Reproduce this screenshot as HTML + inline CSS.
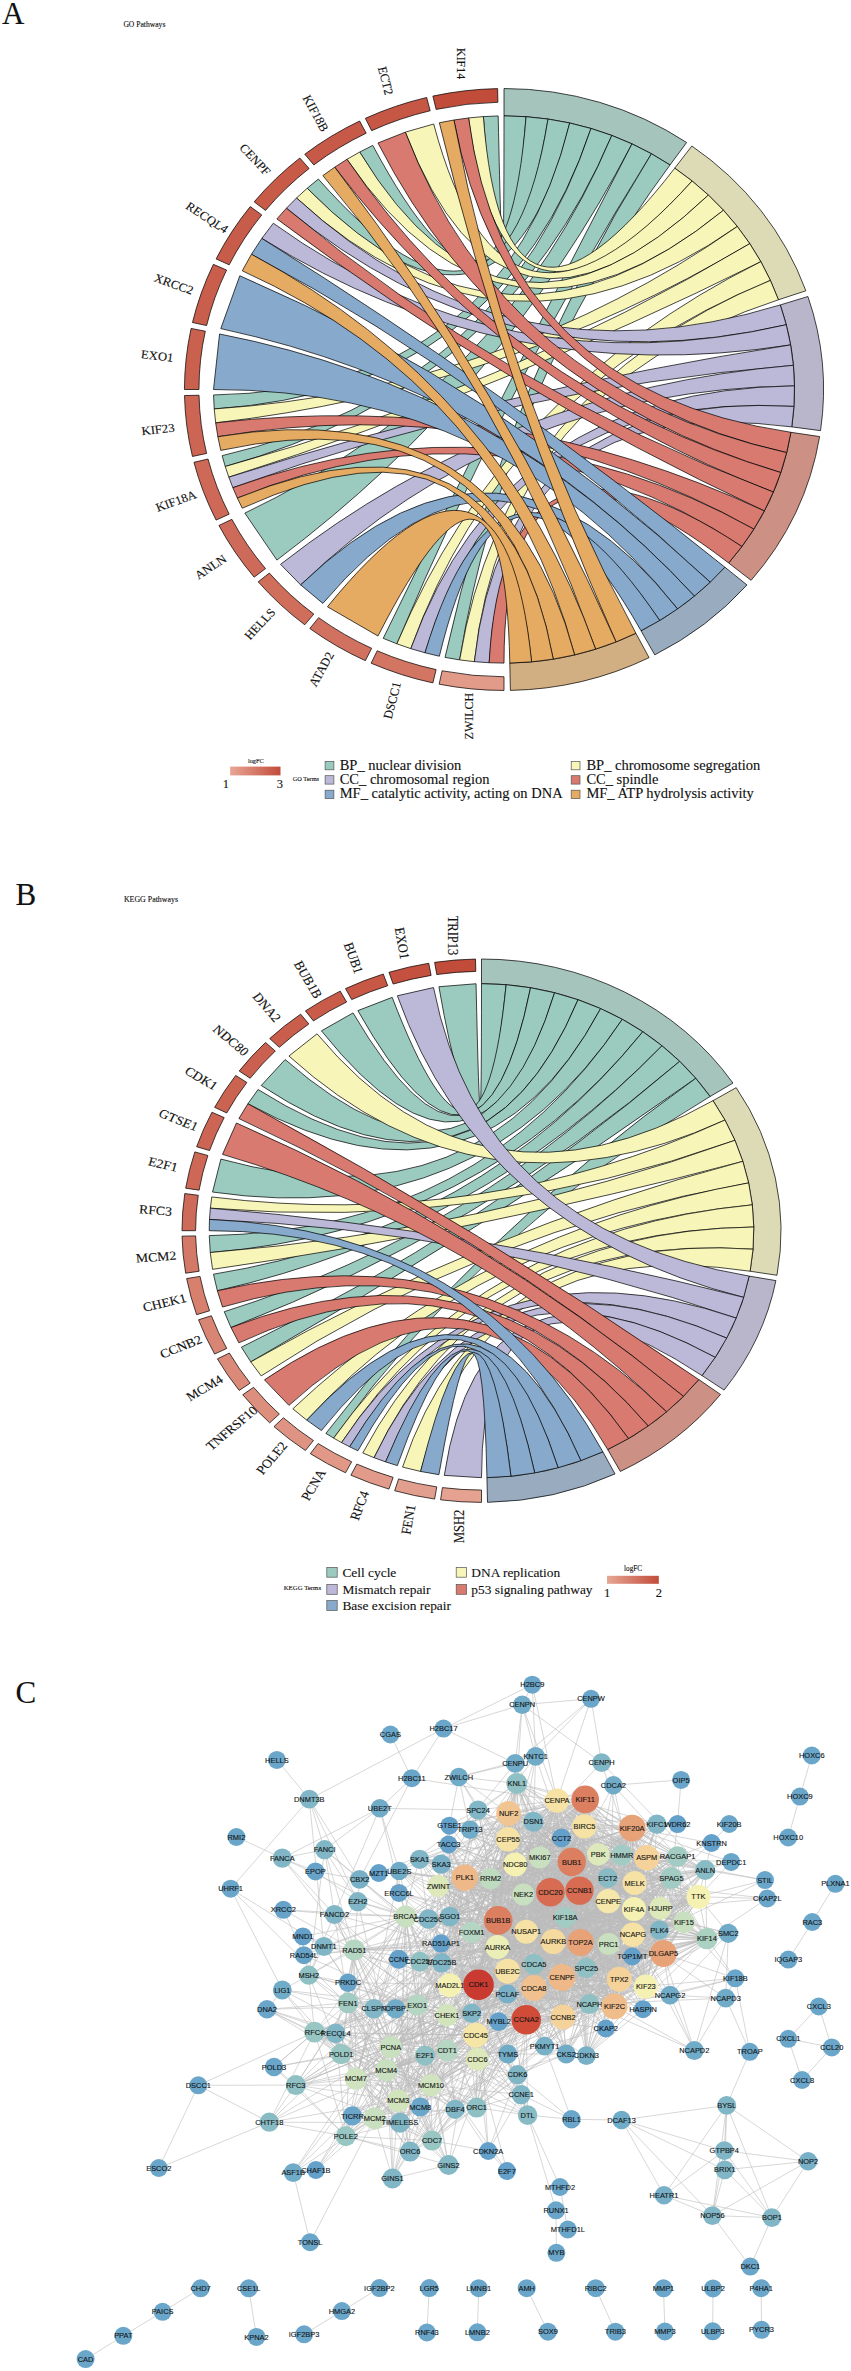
<!DOCTYPE html>
<html lang="en"><head><meta charset="utf-8"><title>Figure</title>
<style>html,body{margin:0;padding:0;background:#fff}body{width:851px;height:2371px;overflow:hidden}svg{display:block}</style></head><body>
<svg width="851" height="2371" viewBox="0 0 851 2371">
<rect width="851" height="2371" fill="#fff"/>
<!-- panel A: GO chord -->
<g font-family="'Liberation Serif', serif" font-size="12" fill="#111" stroke="#111" stroke-width="0.12" text-anchor="middle">
<text transform="translate(461.51 63.63) scale(1.0618 1) rotate(-270)" dy="3.96">KIF14</text>
<text transform="translate(385.58 80.7) scale(1.0618 1) rotate(-283.85)" dy="3.96">ECT2</text>
<text transform="translate(315.59 113.26) scale(1.0618 1) rotate(-297.69)" dy="3.96">KIF18B</text>
<text transform="translate(255.05 159.68) scale(1.0618 1) rotate(-311.54)" dy="3.96">CENPF</text>
<text transform="translate(206.99 217.61) scale(1.0618 1) rotate(-325.38)" dy="3.96">RECQL4</text>
<text transform="translate(173.83 284.17) scale(1.0618 1) rotate(-339.23)" dy="3.96">XRCC2</text>
<text transform="translate(157.22 356) scale(1.0618 1) rotate(-353.08)" dy="3.96">EXO1</text>
<text transform="translate(158 429.52) scale(1.0618 1) rotate(-6.92)" dy="3.96">KIF23</text>
<text transform="translate(176.13 501.03) scale(1.0618 1) rotate(-20.77)" dy="3.96">KIF18A</text>
<text transform="translate(210.7 566.95) scale(1.0618 1) rotate(-34.62)" dy="3.96">ANLN</text>
<text transform="translate(259.98 623.97) scale(1.0618 1) rotate(-48.46)" dy="3.96">HELLS</text>
<text transform="translate(321.49 669.23) scale(1.0618 1) rotate(-62.31)" dy="3.96">ATAD2</text>
<text transform="translate(392.16 700.46) scale(1.0618 1) rotate(-76.15)" dy="3.96">DSCC1</text>
<text transform="translate(468.44 716.11) scale(1.0618 1) rotate(-90)" dy="3.96">ZWILCH</text>
</g>
<g stroke="#000" stroke-width="0.72" stroke-linejoin="miter">
<path d="M504 115.9A290.5 273.6 0 0 1 670.02 164.98L686.62 142.53A319.55 300.96 0 0 0 504 88.54Z" fill="#a5c4bb"/>
<path d="M674.75 168.15A290.5 273.6 0 0 1 778.43 299.77L805.87 290.79A319.55 300.96 0 0 0 691.83 146.02Z" fill="#dcdbb5"/>
<path d="M780.28 304.95A290.5 273.6 0 0 1 791.77 426.89L820.55 430.63A319.55 300.96 0 0 0 807.91 296.5Z" fill="#b9b6cb"/>
<path d="M790.92 432.3A290.5 273.6 0 0 1 728.63 562.99L751.09 580.34A319.55 300.96 0 0 0 819.62 436.58Z" fill="#cc9184"/>
<path d="M724.9 567.19A290.5 273.6 0 0 1 641.03 630.75L654.74 654.87A319.55 300.96 0 0 0 746.99 584.96Z" fill="#99abbf"/>
<path d="M635.88 633.28A290.5 273.6 0 0 1 509.81 663.05L510.39 690.4A319.55 300.96 0 0 0 649.07 657.66Z" fill="#d2af82"/>
<path d="M497.9 102.28A305.03 287.28 0 0 0 436.13 109.42L432.89 96.09A319.55 300.96 0 0 1 497.61 88.6Z" fill="#c24c3a"/>
<path d="M430.19 110.76A305.03 287.28 0 0 0 371.65 130.67L365.35 118.34A319.55 300.96 0 0 1 426.68 97.48Z" fill="#c65745"/>
<path d="M366.19 133.21A305.03 287.28 0 0 0 313.82 164.9L304.76 154.2A319.55 300.96 0 0 1 359.62 121.01Z" fill="#c75948"/>
<path d="M309.09 168.52A305.03 287.28 0 0 0 265.52 210.38L254.17 201.85A319.55 300.96 0 0 1 299.81 158Z" fill="#c85a48"/>
<path d="M261.77 214.91A305.03 287.28 0 0 0 229.18 264.85L216.1 258.92A319.55 300.96 0 0 1 250.23 206.6Z" fill="#c85c4a"/>
<path d="M226.59 270.06A305.03 287.28 0 0 0 206.62 325.57L192.46 322.53A319.55 300.96 0 0 1 213.38 264.37Z" fill="#c95e4c"/>
<path d="M205.32 331.19A305.03 287.28 0 0 0 198.97 389.5L184.45 389.5A319.55 300.96 0 0 1 191.1 328.41Z" fill="#ca604e"/>
<path d="M199.04 395.25A305.03 287.28 0 0 0 206.62 453.43L192.46 456.47A319.55 300.96 0 0 1 184.51 395.52Z" fill="#cc6553"/>
<path d="M208.04 459.01A305.03 287.28 0 0 0 229.18 514.15L216.1 520.08A319.55 300.96 0 0 1 193.95 462.32Z" fill="#ce6857"/>
<path d="M231.88 519.3A305.03 287.28 0 0 0 265.52 568.62L254.17 577.15A319.55 300.96 0 0 1 218.93 525.48Z" fill="#ce6a59"/>
<path d="M269.37 573.07A305.03 287.28 0 0 0 313.82 614.1L304.76 624.8A319.55 300.96 0 0 1 258.2 581.81Z" fill="#d06e5c"/>
<path d="M318.63 617.64A305.03 287.28 0 0 0 371.65 648.33L365.35 660.66A319.55 300.96 0 0 1 309.8 628.51Z" fill="#d17160"/>
<path d="M377.18 650.77A305.03 287.28 0 0 0 436.13 669.58L432.89 682.91A319.55 300.96 0 0 1 371.14 663.21Z" fill="#d37563"/>
<path d="M442.09 670.8A305.03 287.28 0 0 0 504 676.78L504 690.46A319.55 300.96 0 0 1 439.14 684.19Z" fill="#e29a89"/>
<path d="M504 115.9Q504 389.5 498.19 115.95L483.36 116.59Q504 389.5 526.07 116.69Z" fill="#9bcbbf"/>
<path d="M526.07 116.69Q504 389.5 372.75 145.42L359.68 152.05Q504 389.5 548.01 119.06Z" fill="#9bcbbf"/>
<path d="M548.01 119.06Q504 389.5 318.37 179.05L307.2 188.25Q504 389.5 569.7 122.99Z" fill="#9bcbbf"/>
<path d="M569.7 122.99Q504 389.5 213.56 394.97L214.23 408.94Q504 389.5 591 128.46Z" fill="#9bcbbf"/>
<path d="M591 128.46Q504 389.5 222.13 455.7L225.24 466.5Q504 389.5 611.81 135.44Z" fill="#9bcbbf"/>
<path d="M611.81 135.44Q504 389.5 244.84 513.12L276.88 560.09Q504 389.5 631.99 143.88Z" fill="#9bcbbf"/>
<path d="M631.99 143.88Q504 389.5 383.22 638.33L396.87 643.82Q504 389.5 651.43 153.75Z" fill="#9bcbbf"/>
<path d="M651.43 153.75Q504 389.5 445.03 657.4L459.64 659.89Q504 389.5 670.02 164.98Z" fill="#9bcbbf"/>
<path d="M674.75 168.15Q504 389.5 483.36 116.59L468.59 117.94Q504 389.5 692.11 181.01Z" fill="#f7f6b8"/>
<path d="M692.11 181.01Q504 389.5 433.71 124.03L405.32 132.17Q504 389.5 708.38 195.07Z" fill="#f7f6b8"/>
<path d="M708.38 195.07Q504 389.5 359.68 152.05L346.99 159.3Q504 389.5 723.48 210.26Z" fill="#f7f6b8"/>
<path d="M723.48 210.26Q504 389.5 307.2 188.25L296.54 197.98Q504 389.5 737.3 226.48Z" fill="#f7f6b8"/>
<path d="M737.3 226.48Q504 389.5 214.23 408.94L215.67 422.85Q504 389.5 749.78 243.64Z" fill="#f7f6b8"/>
<path d="M749.78 243.64Q504 389.5 225.24 466.5L228.82 477.16Q504 389.5 760.83 261.65Z" fill="#f7f6b8"/>
<path d="M760.83 261.65Q504 389.5 396.87 643.82L410.8 648.64Q504 389.5 770.4 280.39Z" fill="#f7f6b8"/>
<path d="M770.4 280.39Q504 389.5 459.64 659.89L474.36 661.67Q504 389.5 778.43 299.77Z" fill="#f7f6b8"/>
<path d="M780.28 304.95Q504 389.5 296.54 197.98L286.43 208.21Q504 389.5 786.25 324.74Z" fill="#bcb8d8"/>
<path d="M786.25 324.74Q504 389.5 273.3 223.23L261.82 238.4Q504 389.5 790.61 344.9Z" fill="#bcb8d8"/>
<path d="M790.61 344.9Q504 389.5 228.82 477.16L232.85 487.68Q504 389.5 793.36 365.31Z" fill="#bcb8d8"/>
<path d="M793.36 365.31Q504 389.5 280.55 564.33L300.65 584.89Q504 389.5 794.47 385.85Z" fill="#bcb8d8"/>
<path d="M794.47 385.85Q504 389.5 410.8 648.64L424.98 652.78Q504 389.5 793.94 406.42Z" fill="#bcb8d8"/>
<path d="M793.94 406.42Q504 389.5 474.36 661.67L489.16 662.74Q504 389.5 791.77 426.89Z" fill="#bcb8d8"/>
<path d="M790.92 432.3Q504 389.5 468.59 117.94L453.91 120Q504 389.5 786.67 452.61Z" fill="#d87a70"/>
<path d="M786.67 452.61Q504 389.5 405.32 132.17L377.96 142.99Q504 389.5 780.79 472.56Z" fill="#d87a70"/>
<path d="M780.79 472.56Q504 389.5 346.99 159.3L334.71 167.16Q504 389.5 773.33 492.03Z" fill="#d87a70"/>
<path d="M773.33 492.03Q504 389.5 286.43 208.21L276.88 218.91Q504 389.5 764.33 510.92Z" fill="#d87a70"/>
<path d="M764.33 510.92Q504 389.5 215.67 422.85L217.85 436.68Q504 389.5 753.83 529.11Z" fill="#d87a70"/>
<path d="M753.83 529.11Q504 389.5 232.85 487.68L237.34 498.04Q504 389.5 741.91 546.5Z" fill="#d87a70"/>
<path d="M741.91 546.5Q504 389.5 489.16 662.74L504 663.1Q504 389.5 728.63 562.99Z" fill="#d87a70"/>
<path d="M724.9 567.19Q504 389.5 261.82 238.4L251.46 254.28Q504 389.5 710.23 582.19Z" fill="#87a9cb"/>
<path d="M710.23 582.19Q504 389.5 239.8 275.74L220.78 328.62Q504 389.5 694.43 596.12Z" fill="#87a9cb"/>
<path d="M694.43 596.12Q504 389.5 219.55 333.96L213.5 389.5Q504 389.5 677.56 608.9Z" fill="#87a9cb"/>
<path d="M677.56 608.9Q504 389.5 300.65 584.89L322.88 603.41Q504 389.5 659.73 620.47Z" fill="#87a9cb"/>
<path d="M659.73 620.47Q504 389.5 424.98 652.78L439.36 656.24Q504 389.5 641.03 630.75Z" fill="#87a9cb"/>
<path d="M635.88 633.28Q504 389.5 453.91 120L439.36 122.76Q504 389.5 616.06 641.92Z" fill="#e5ab62"/>
<path d="M616.06 641.92Q504 389.5 334.71 167.16L322.88 175.59Q504 389.5 595.61 649.14Z" fill="#e5ab62"/>
<path d="M595.61 649.14Q504 389.5 251.46 254.28L242.27 270.79Q504 389.5 574.64 654.89Z" fill="#e5ab62"/>
<path d="M574.64 654.89Q504 389.5 217.85 436.68L220.78 450.38Q504 389.5 553.27 659.14Z" fill="#e5ab62"/>
<path d="M553.27 659.14Q504 389.5 237.34 498.04L242.27 508.21Q504 389.5 531.62 661.86Z" fill="#e5ab62"/>
<path d="M531.62 661.86Q504 389.5 327.45 606.78L377.96 636.01Q504 389.5 509.81 663.05Z" fill="#e5ab62"/>
</g>
<!-- panel B: KEGG chord -->
<g font-family="'Liberation Serif', serif" font-size="12.5" fill="#111" stroke="#111" stroke-width="0.12" text-anchor="middle">
<text transform="translate(452.61 935.46) scale(1.1024 1) rotate(-270)" dy="4.12">TRIP13</text>
<text transform="translate(402.05 943.2) scale(1.1024 1) rotate(-279.47)" dy="4.12">EXO1</text>
<text transform="translate(353.44 958.01) scale(1.1024 1) rotate(-288.95)" dy="4.12">BUB1</text>
<text transform="translate(307.99 979.54) scale(1.1024 1) rotate(-298.42)" dy="4.12">BUB1B</text>
<text transform="translate(266.81 1007.25) scale(1.1024 1) rotate(-307.89)" dy="4.12">DNA2</text>
<text transform="translate(230.92 1040.47) scale(1.1024 1) rotate(-317.37)" dy="4.12">NDC80</text>
<text transform="translate(201.2 1078.37) scale(1.1024 1) rotate(-326.84)" dy="4.12">CDK1</text>
<text transform="translate(178.38 1120.02) scale(1.1024 1) rotate(-336.32)" dy="4.12">GTSE1</text>
<text transform="translate(163.02 1164.39) scale(1.1024 1) rotate(-345.79)" dy="4.12">E2F1</text>
<text transform="translate(155.51 1210.4) scale(1.1024 1) rotate(-355.26)" dy="4.12">RFC3</text>
<text transform="translate(156.02 1256.91) scale(1.1024 1) rotate(-4.74)" dy="4.12">MCM2</text>
<text transform="translate(164.55 1302.77) scale(1.1024 1) rotate(-14.21)" dy="4.12">CHEK1</text>
<text transform="translate(180.88 1346.86) scale(1.1024 1) rotate(-23.68)" dy="4.12">CCNB2</text>
<text transform="translate(204.61 1388.09) scale(1.1024 1) rotate(-33.16)" dy="4.12">MCM4</text>
<text transform="translate(235.16 1425.44) scale(1.1024 1) rotate(-42.63)" dy="4.12">TNFRSF10B</text>
<text transform="translate(271.78 1458) scale(1.1024 1) rotate(-52.11)" dy="4.12">POLE2</text>
<text transform="translate(313.56 1484.96) scale(1.1024 1) rotate(-61.58)" dy="4.12">PCNA</text>
<text transform="translate(359.48 1505.66) scale(1.1024 1) rotate(-71.05)" dy="4.12">RFC4</text>
<text transform="translate(408.4 1519.59) scale(1.1024 1) rotate(-80.53)" dy="4.12">FEN1</text>
<text transform="translate(459.12 1526.4) scale(1.1024 1) rotate(-90)" dy="4.12">MSH2</text>
</g>
<g stroke="#000" stroke-width="0.72" stroke-linejoin="miter">
<path d="M481.5 983.7A272.3 247 0 0 1 710.1 1096.5L732.96 1083.08A299.53 271.7 0 0 0 481.5 959Z" fill="#a5c4bb"/>
<path d="M713.01 1100.67A272.3 247 0 0 1 750.11 1271.22L776.97 1275.27A299.53 271.7 0 0 0 736.17 1087.67Z" fill="#dcdbb5"/>
<path d="M749.16 1276.09A272.3 247 0 0 1 702.04 1375.58L724.09 1390.07A299.53 271.7 0 0 0 775.93 1280.62Z" fill="#b9b6cb"/>
<path d="M698.8 1379.55A272.3 247 0 0 1 607.73 1449.56L620.35 1471.45A299.53 271.7 0 0 0 720.53 1394.44Z" fill="#cc9184"/>
<path d="M602.87 1451.81A272.3 247 0 0 1 486.95 1477.65L487.49 1502.35A299.53 271.7 0 0 0 615.01 1473.92Z" fill="#99abbf"/>
<path d="M475.78 971.4A285.92 259.35 0 0 0 436.77 974.54L434.64 962.35A299.53 271.7 0 0 1 475.51 959.05Z" fill="#c24c3a"/>
<path d="M431.13 975.41A285.92 259.35 0 0 0 393.15 984.04L388.94 972.3A299.53 271.7 0 0 1 428.74 963.25Z" fill="#c4513f"/>
<path d="M387.73 985.7A285.92 259.35 0 0 0 351.7 999.62L345.52 988.61A299.53 271.7 0 0 1 383.26 974.03Z" fill="#c75846"/>
<path d="M346.63 1002.02A285.92 259.35 0 0 0 313.44 1020.88L305.44 1010.89A299.53 271.7 0 0 1 340.21 991.13Z" fill="#c85b49"/>
<path d="M308.85 1023.97A285.92 259.35 0 0 0 279.33 1047.31L269.7 1038.58A299.53 271.7 0 0 1 300.63 1014.13Z" fill="#c95e4c"/>
<path d="M275.32 1051.02A285.92 259.35 0 0 0 250.19 1078.26L239.18 1071A299.53 271.7 0 0 1 265.51 1042.46Z" fill="#ca604f"/>
<path d="M246.88 1082.48A285.92 259.35 0 0 0 226.75 1112.96L214.62 1107.35A299.53 271.7 0 0 1 235.7 1075.43Z" fill="#cb6351"/>
<path d="M224.2 1117.6A285.92 259.35 0 0 0 209.58 1150.56L196.63 1146.74A299.53 271.7 0 0 1 211.95 1112.22Z" fill="#cc6553"/>
<path d="M207.87 1155.51A285.92 259.35 0 0 0 199.11 1190.13L185.66 1188.2A299.53 271.7 0 0 1 194.84 1151.92Z" fill="#cd6856"/>
<path d="M198.27 1195.26A285.92 259.35 0 0 0 195.58 1230.7L181.97 1230.7A299.53 271.7 0 0 1 184.78 1193.57Z" fill="#ce6a59"/>
<path d="M195.64 1235.89A285.92 259.35 0 0 0 199.11 1271.27L185.66 1273.2A299.53 271.7 0 0 1 182.03 1236.13Z" fill="#d47867"/>
<path d="M200.06 1276.39A285.92 259.35 0 0 0 209.58 1310.84L196.63 1314.66A299.53 271.7 0 0 1 186.65 1278.56Z" fill="#d7806e"/>
<path d="M211.4 1315.76A285.92 259.35 0 0 0 226.75 1348.44L214.62 1354.05A299.53 271.7 0 0 1 198.54 1319.81Z" fill="#d98574"/>
<path d="M229.39 1353.04A285.92 259.35 0 0 0 250.19 1383.14L239.18 1390.4A299.53 271.7 0 0 1 217.39 1358.87Z" fill="#db8a79"/>
<path d="M253.6 1387.31A285.92 259.35 0 0 0 279.33 1414.09L269.7 1422.82A299.53 271.7 0 0 1 242.74 1394.77Z" fill="#dd8f7e"/>
<path d="M283.41 1417.72A285.92 259.35 0 0 0 313.44 1440.52L305.44 1450.51A299.53 271.7 0 0 1 273.98 1426.62Z" fill="#df9382"/>
<path d="M318.1 1443.53A285.92 259.35 0 0 0 351.7 1461.78L345.52 1472.79A299.53 271.7 0 0 1 310.32 1453.66Z" fill="#e19886"/>
<path d="M356.82 1464.09A285.92 259.35 0 0 0 393.15 1477.36L388.94 1489.1A299.53 271.7 0 0 1 350.88 1475.2Z" fill="#e29b8a"/>
<path d="M398.6 1478.91A285.92 259.35 0 0 0 436.77 1486.86L434.64 1499.05A299.53 271.7 0 0 1 394.66 1490.73Z" fill="#e39f8e"/>
<path d="M442.43 1487.62A285.92 259.35 0 0 0 481.5 1490.05L481.5 1502.4A299.53 271.7 0 0 1 440.57 1499.85Z" fill="#e5a291"/>
<path d="M481.5 983.7Q481.5 1230.7 476.05 983.75L438.9 986.74Q481.5 1230.7 506.13 984.71Z" fill="#9bcbbf"/>
<path d="M506.13 984.71Q481.5 1230.7 392.19 997.36L357.88 1010.62Q481.5 1230.7 530.56 987.74Z" fill="#9bcbbf"/>
<path d="M530.56 987.74Q481.5 1230.7 353.05 1012.91L321.45 1030.87Q481.5 1230.7 554.59 992.76Z" fill="#9bcbbf"/>
<path d="M554.59 992.76Q481.5 1230.7 285.14 1059.57L261.2 1085.52Q481.5 1230.7 578.02 999.74Z" fill="#9bcbbf"/>
<path d="M578.02 999.74Q481.5 1230.7 258.05 1089.54L247.91 1103.76Q481.5 1230.7 600.65 1008.6Z" fill="#9bcbbf"/>
<path d="M600.65 1008.6Q481.5 1230.7 220.9 1159.09L212.55 1192.06Q481.5 1230.7 622.31 1019.29Z" fill="#9bcbbf"/>
<path d="M622.31 1019.29Q481.5 1230.7 209.25 1235.64L210.27 1252.54Q481.5 1230.7 642.82 1031.71Z" fill="#9bcbbf"/>
<path d="M642.82 1031.71Q481.5 1230.7 213.46 1274.21L217.37 1290.76Q481.5 1230.7 662 1045.76Z" fill="#9bcbbf"/>
<path d="M662 1045.76Q481.5 1230.7 224.26 1311.71L230.98 1327.5Q481.5 1230.7 679.7 1061.33Z" fill="#9bcbbf"/>
<path d="M679.7 1061.33Q481.5 1230.7 241.4 1347.21L250.76 1361.86Q481.5 1230.7 695.78 1078.29Z" fill="#9bcbbf"/>
<path d="M695.78 1078.29Q481.5 1230.7 325.88 1433.39L333.63 1438.11Q481.5 1230.7 710.1 1096.5Z" fill="#9bcbbf"/>
<path d="M713.01 1100.67Q481.5 1230.7 317.07 1033.82L288.95 1056.04Q481.5 1230.7 724.95 1120.05Z" fill="#f7f6b8"/>
<path d="M724.95 1120.05Q481.5 1230.7 211.75 1196.95L210.34 1208.16Q481.5 1230.7 734.92 1140.32Z" fill="#f7f6b8"/>
<path d="M734.92 1140.32Q481.5 1230.7 210.27 1252.54L212.55 1269.34Q481.5 1230.7 742.84 1161.33Z" fill="#f7f6b8"/>
<path d="M742.84 1161.33Q481.5 1230.7 250.76 1361.86L261.2 1375.88Q481.5 1230.7 748.65 1182.89Z" fill="#f7f6b8"/>
<path d="M748.65 1182.89Q481.5 1230.7 292.84 1408.81L306.73 1420.11Q481.5 1230.7 752.3 1204.84Z" fill="#f7f6b8"/>
<path d="M752.3 1204.84Q481.5 1230.7 333.63 1438.11L341.55 1442.58Q481.5 1230.7 753.77 1227Z" fill="#f7f6b8"/>
<path d="M753.77 1227Q481.5 1230.7 362.76 1452.98L374.07 1457.67Q481.5 1230.7 753.04 1249.18Z" fill="#f7f6b8"/>
<path d="M753.04 1249.18Q481.5 1230.7 402.55 1467.09L420.58 1471.44Q481.5 1230.7 750.11 1271.22Z" fill="#f7f6b8"/>
<path d="M749.16 1276.09Q481.5 1230.7 433.53 987.56L397.35 995.79Q481.5 1230.7 743.7 1297.34Z" fill="#bcb8d8"/>
<path d="M743.7 1297.34Q481.5 1230.7 210.34 1208.16L209.48 1219.42Q481.5 1230.7 736.19 1318.08Z" fill="#bcb8d8"/>
<path d="M736.19 1318.08Q481.5 1230.7 341.55 1442.58L349.64 1446.81Q481.5 1230.7 726.69 1338.14Z" fill="#bcb8d8"/>
<path d="M726.69 1338.14Q481.5 1230.7 374.07 1457.67L385.61 1461.88Q481.5 1230.7 715.28 1357.35Z" fill="#bcb8d8"/>
<path d="M715.28 1357.35Q481.5 1230.7 444.29 1475.38L481.5 1477.7Q481.5 1230.7 702.04 1375.58Z" fill="#bcb8d8"/>
<path d="M698.8 1379.55Q481.5 1230.7 247.91 1103.76L238.88 1118.56Q481.5 1230.7 683.46 1396.37Z" fill="#d87a70"/>
<path d="M683.46 1396.37Q481.5 1230.7 236.46 1122.99L222.53 1154.37Q481.5 1230.7 666.55 1411.9Z" fill="#d87a70"/>
<path d="M666.55 1411.9Q481.5 1230.7 217.37 1290.76L222.53 1307.03Q481.5 1230.7 648.19 1426.01Z" fill="#d87a70"/>
<path d="M648.19 1426.01Q481.5 1230.7 230.98 1327.5L238.88 1342.84Q481.5 1230.7 628.53 1438.6Z" fill="#d87a70"/>
<path d="M628.53 1438.6Q481.5 1230.7 264.45 1379.85L288.95 1405.36Q481.5 1230.7 607.73 1449.56Z" fill="#d87a70"/>
<path d="M602.87 1451.81Q481.5 1230.7 209.48 1219.42L209.2 1230.7Q481.5 1230.7 580.88 1460.66Z" fill="#87a9cb"/>
<path d="M580.88 1460.66Q481.5 1230.7 306.73 1420.11L321.45 1430.53Q481.5 1230.7 558.11 1467.72Z" fill="#87a9cb"/>
<path d="M558.11 1467.72Q481.5 1230.7 349.64 1446.81L357.88 1450.78Q481.5 1230.7 534.74 1472.93Z" fill="#87a9cb"/>
<path d="M534.74 1472.93Q481.5 1230.7 385.61 1461.88L397.35 1465.61Q481.5 1230.7 510.96 1476.25Z" fill="#87a9cb"/>
<path d="M510.96 1476.25Q481.5 1230.7 420.58 1471.44L438.9 1474.66Q481.5 1230.7 486.95 1477.65Z" fill="#87a9cb"/>
</g>
<!-- legends -->
<defs><linearGradient id="lg" x1="0" x2="1" y1="0" y2="0"><stop offset="0" stop-color="#e8a695"/><stop offset="1" stop-color="#c24c3a"/></linearGradient></defs>
<g font-family="'Liberation Serif', serif" fill="#111" stroke="#111" stroke-width="0.12">
<text x="2" y="23.5" font-size="31">A</text>
<text x="15.5" y="905.3" font-size="31">B</text>
<text x="15.5" y="1703" font-size="31">C</text>
<text x="123.4" y="27.4" font-size="7.6">GO Pathways</text>
<text x="123.9" y="901.7" font-size="7.9">KEGG Pathways</text>
<text x="255.8" y="763.3" font-size="6.3" text-anchor="middle">logFC</text>
<rect x="230.1" y="766.6" width="50.4" height="8.8" fill="url(#lg)" stroke="none"/>
<text x="225.9" y="787.6" font-size="12.5" text-anchor="middle">1</text>
<text x="279.8" y="787.6" font-size="12.5" text-anchor="middle">3</text>
<text x="292.8" y="781" font-size="6.3">GO Terms</text>
<rect x="325.1" y="761.4" width="8.8" height="8.4" fill="#9bcbbf" stroke="#555" stroke-width="0.7"/>
<text x="339.7" y="769.6" font-size="14.5">BP_ nuclear division</text>
<rect x="571.2" y="761.4" width="8.8" height="8.4" fill="#f7f6b8" stroke="#555" stroke-width="0.7"/>
<text x="586.4" y="769.6" font-size="14.5">BP_ chromosome segregation</text>
<rect x="325.1" y="775.7" width="8.8" height="8.4" fill="#bcb8d8" stroke="#555" stroke-width="0.7"/>
<text x="339.7" y="783.9" font-size="14.5">CC_ chromosomal region</text>
<rect x="571.2" y="775.7" width="8.8" height="8.4" fill="#d87a70" stroke="#555" stroke-width="0.7"/>
<text x="586.4" y="783.9" font-size="14.5">CC_ spindle</text>
<rect x="325.1" y="790.2" width="8.8" height="8.4" fill="#87a9cb" stroke="#555" stroke-width="0.7"/>
<text x="339.7" y="798.4" font-size="14.5">MF_ catalytic activity, acting on DNA</text>
<rect x="571.2" y="790.2" width="8.8" height="8.4" fill="#e5ab62" stroke="#555" stroke-width="0.7"/>
<text x="586.4" y="798.4" font-size="14.5">MF_ ATP hydrolysis activity</text>
<text x="283.7" y="1590.2" font-size="6.8">KEGG Terms</text>
<rect x="326.8" y="1567.4" width="10.4" height="9.8" fill="#9bcbbf" stroke="#555" stroke-width="0.7"/>
<text x="342.4" y="1577.2" font-size="13.4">Cell cycle</text>
<rect x="456.2" y="1567.4" width="10.4" height="9.8" fill="#f7f6b8" stroke="#555" stroke-width="0.7"/>
<text x="471.3" y="1577.2" font-size="13.4">DNA replication</text>
<rect x="326.8" y="1584.5" width="10.4" height="9.8" fill="#bcb8d8" stroke="#555" stroke-width="0.7"/>
<text x="342.4" y="1594.3" font-size="13.4">Mismatch repair</text>
<rect x="456.2" y="1584.5" width="10.4" height="9.8" fill="#d87a70" stroke="#555" stroke-width="0.7"/>
<text x="471.3" y="1594.3" font-size="13.4">p53 signaling pathway</text>
<rect x="326.8" y="1600.6" width="10.4" height="9.8" fill="#87a9cb" stroke="#555" stroke-width="0.7"/>
<text x="342.4" y="1610.4" font-size="13.4">Base excision repair</text>
<text x="633.1" y="1570.6" font-size="7.2" text-anchor="middle">logFC</text>
<rect x="607" y="1575.8" width="51.8" height="8" fill="url(#lg)" stroke="none"/>
<text x="607" y="1597.3" font-size="12.5" text-anchor="middle">1</text>
<text x="658.8" y="1597.3" font-size="12.5" text-anchor="middle">2</text>
</g>
<!-- panel C: PPI network -->
<g stroke="#bcbcbc" stroke-width="0.6" fill="none">
<path d="M526.7 2288.2L547.9 2331.7M705.2 1870L646.7 1857.7M705.2 1870L553.4 1941.6M705.2 1870L584.5 1826.4M705.2 1870L498.2 1920.4M705.2 1870L526.2 2019.8M705.2 1870L579.5 1890.6M705.2 1870L563 2016.9M705.2 1870L550.4 1892.2M705.2 1870L478.5 1984.7M705.2 1870L557 1800.6M705.2 1870L608.2 1901.1M705.2 1870L601.6 1762.7M705.2 1870L508.1 1839.3M705.2 1870L731.2 1861.9M705.2 1870L585.2 1799.4M705.2 1870L706.9 1938.7M705.2 1870L632.2 1828.1M705.2 1870L614.5 2006.2M705.2 1870L711.6 1843M705.2 1870L634.7 1883M705.2 1870L632.9 1934.7M705.2 1870L508.6 1813.5M705.2 1870L410 2151.6M705.2 1870L659.4 1930M705.2 1870L677.5 1856.7M705.2 1870L314.5 2032.2M705.2 1870L765 1880.1M705.2 1870L619.2 1979.2M705.2 1870L698.4 1896.8M705.2 1870L438.4 1886M293.2 2172.7L315.9 2170M293.2 2172.7L374.7 2118.2M293.2 2172.7L355.9 2078.8M293.2 2172.7L390.8 2047.1M293.2 2172.7L352.4 2115.9M293.2 2172.7L310.1 2242.2M646.7 1857.7L497.5 1947M646.7 1857.7L553.4 1941.6M646.7 1857.7L584.5 1826.4M646.7 1857.7L571.7 1862M646.7 1857.7L498.2 1920.4M646.7 1857.7L526.2 2019.8M646.7 1857.7L579.5 1890.6M646.7 1857.7L563 2016.9M646.7 1857.7L550.4 1892.2M646.7 1857.7L420 1961.7M646.7 1857.7L475.8 2035.2M646.7 1857.7L533.9 1988.1M646.7 1857.7L478.5 1984.7M646.7 1857.7L557 1800.6M646.7 1857.7L608.2 1901.1M646.7 1857.7L562 1977.5M646.7 1857.7L508.1 1839.3M646.7 1857.7L566.2 2054M646.7 1857.7L731.2 1861.9M646.7 1857.7L663.4 1953.5M646.7 1857.7L533.5 1821.7M646.7 1857.7L607.7 1878M646.7 1857.7L471.6 1932.4"/>
<path d="M646.7 1857.7L660.4 1908.2M646.7 1857.7L621.8 1855.1M646.7 1857.7L585.2 1799.4M646.7 1857.7L706.9 1938.7M646.7 1857.7L683.9 1922.3M646.7 1857.7L632.2 1828.1M646.7 1857.7L645.8 1986.4M646.7 1857.7L614.5 2006.2M646.7 1857.7L634 1908.9M646.7 1857.7L656.9 1824.1M646.7 1857.7L516.8 1783.4M646.7 1857.7L449.8 1985.3M646.7 1857.7L634.7 1883M646.7 1857.7L539.8 1857.4M646.7 1857.7L632.9 1934.7M646.7 1857.7L515.2 1864.4M646.7 1857.7L523.4 1894.5M646.7 1857.7L508.6 1813.5M646.7 1857.7L526.2 1931.7M646.7 1857.7L598.3 1854.4M646.7 1857.7L390.8 2047.1M646.7 1857.7L544.6 2046.2M646.7 1857.7L464.9 1877.6M646.7 1857.7L659.4 1930M646.7 1857.7L608.6 1943.9M646.7 1857.7L677.5 1856.7M646.7 1857.7L441 1943.4M646.7 1857.7L490.5 1878.7M646.7 1857.7L471.7 2013.2M646.7 1857.7L671.4 1878M646.7 1857.7L765 1880.1M646.7 1857.7L399.9 2122.7M646.7 1857.7L580.5 1942.5M646.7 1857.7L619.2 1979.2M646.7 1857.7L698.4 1896.8M646.7 1857.7L507.6 1971.2M646.7 1857.7L677.5 1824.1M646.7 1857.7L438.4 1886M497.5 1947L553.4 1941.6M497.5 1947L584.5 1826.4M497.5 1947L405.6 1916.5M497.5 1947L571.7 1862M497.5 1947L498.2 1920.4M497.5 1947L526.2 2019.8M497.5 1947L579.5 1890.6M497.5 1947L563 2016.9M497.5 1947L398.7 1959.3M497.5 1947L550.4 1892.2M497.5 1947L420 1961.7M497.5 1947L441.7 1962.8M497.5 1947L428.4 1919M497.5 1947L477.4 2059.2M497.5 1947L533.9 1988.1M497.5 1947L478.5 1984.7M497.5 1947L557 1800.6M497.5 1947L608.2 1901.1M497.5 1947L562 1977.5M497.5 1947L508.1 1839.3M497.5 1947L447 2015.1M497.5 1947L663.4 1953.5"/>
<path d="M497.5 1947L471.6 1932.4M497.5 1947L660.4 1908.2M497.5 1947L621.8 1855.1M497.5 1947L585.2 1799.4M497.5 1947L683.9 1922.3M497.5 1947L632.2 1828.1M497.5 1947L614.5 2006.2M497.5 1947L634 1908.9M497.5 1947L449.8 1985.3M497.5 1947L355.9 2078.8M497.5 1947L634.7 1883M497.5 1947L539.8 1857.4M497.5 1947L632.9 1934.7M497.5 1947L515.2 1864.4M497.5 1947L523.4 1894.5M497.5 1947L508.6 1813.5M497.5 1947L526.2 1931.7M497.5 1947L464.9 1877.6M497.5 1947L608.6 1943.9M497.5 1947L677.5 1856.7M497.5 1947L335.7 2033.4M497.5 1947L490.5 1878.7M497.5 1947L419.6 1859.3M497.5 1947L441.2 1864.1M497.5 1947L471.7 2013.2M497.5 1947L586.3 1968.1M497.5 1947L580.5 1942.5M497.5 1947L619.2 1979.2M497.5 1947L698.4 1896.8M497.5 1947L507.6 1971.2M497.5 1947L438.4 1886M553.4 1941.6L584.5 1826.4M553.4 1941.6L571.7 1862M553.4 1941.6L498.2 1920.4M553.4 1941.6L526.2 2019.8M553.4 1941.6L579.5 1890.6M553.4 1941.6L563 2016.9M553.4 1941.6L550.4 1892.2M553.4 1941.6L441.7 1962.8M553.4 1941.6L533.9 1964.1M553.4 1941.6L533.9 1988.1M553.4 1941.6L478.5 1984.7M553.4 1941.6L557 1800.6M553.4 1941.6L608.2 1901.1M553.4 1941.6L562 1977.5M553.4 1941.6L508.1 1839.3M553.4 1941.6L663.4 1953.5M553.4 1941.6L425 2055.5M553.4 1941.6L607.7 1878M553.4 1941.6L471.6 1932.4M553.4 1941.6L643 2009.2M553.4 1941.6L660.4 1908.2M553.4 1941.6L621.8 1855.1M553.4 1941.6L585.2 1799.4M553.4 1941.6L706.9 1938.7M553.4 1941.6L683.9 1922.3M553.4 1941.6L565.2 1917.6M553.4 1941.6L632.2 1828.1M553.4 1941.6L645.8 1986.4M553.4 1941.6L614.5 2006.2"/>
<path d="M553.4 1941.6L634 1908.9M553.4 1941.6L449.8 1985.3M553.4 1941.6L634.7 1883M553.4 1941.6L539.8 1857.4M553.4 1941.6L632.9 1934.7M553.4 1941.6L589.4 2004.1M553.4 1941.6L515.2 1864.4M553.4 1941.6L523.4 1894.5M553.4 1941.6L508.6 1813.5M553.4 1941.6L526.2 1931.7M553.4 1941.6L598.3 1854.4M553.4 1941.6L464.9 1877.6M553.4 1941.6L659.4 1930M553.4 1941.6L608.6 1943.9M553.4 1941.6L677.5 1856.7M553.4 1941.6L490.5 1878.7M553.4 1941.6L449.8 1916.5M553.4 1941.6L419.6 1859.3M553.4 1941.6L671.4 1878M553.4 1941.6L586.3 1968.1M553.4 1941.6L580.5 1942.5M553.4 1941.6L619.2 1979.2M553.4 1941.6L698.4 1896.8M553.4 1941.6L507.6 1971.2M553.4 1941.6L438.4 1886M584.5 1826.4L405.6 1916.5M584.5 1826.4L571.7 1862M584.5 1826.4L498.2 1920.4M584.5 1826.4L526.2 2019.8M584.5 1826.4L579.5 1890.6M584.5 1826.4L563 2016.9M584.5 1826.4L561.5 1837.9M584.5 1826.4L550.4 1892.2M584.5 1826.4L420 1961.7M584.5 1826.4L428.4 1919M584.5 1826.4L475.8 2035.2M584.5 1826.4L533.9 1988.1M584.5 1826.4L478.5 1984.7M584.5 1826.4L586.4 2055.7M584.5 1826.4L447.2 2050.7M584.5 1826.4L557 1800.6M584.5 1826.4L608.2 1901.1M584.5 1826.4L562 1977.5M584.5 1826.4L508.1 1839.3M584.5 1826.4L663.4 1953.5M584.5 1826.4L533.5 1821.7M584.5 1826.4L425 2055.5M584.5 1826.4L471.6 1932.4M584.5 1826.4L660.4 1908.2M584.5 1826.4L621.8 1855.1M584.5 1826.4L585.2 1799.4M584.5 1826.4L683.9 1922.3M584.5 1826.4L632.2 1828.1M584.5 1826.4L645.8 1986.4M584.5 1826.4L614.5 2006.2M584.5 1826.4L634 1908.9M584.5 1826.4L656.9 1824.1M584.5 1826.4L516.8 1783.4M584.5 1826.4L398.2 2100.6M584.5 1826.4L634.7 1883"/>
<path d="M584.5 1826.4L539.8 1857.4M584.5 1826.4L632.9 1934.7M584.5 1826.4L589.4 2004.1M584.5 1826.4L515.2 1864.4M584.5 1826.4L523.4 1894.5M584.5 1826.4L508.6 1813.5M584.5 1826.4L526.2 1931.7M584.5 1826.4L598.3 1854.4M584.5 1826.4L464.9 1877.6M584.5 1826.4L659.4 1930M584.5 1826.4L345.8 2136.3M584.5 1826.4L608.6 1943.9M584.5 1826.4L441 1943.4M584.5 1826.4L490.5 1878.7M584.5 1826.4L449.8 1916.5M584.5 1826.4L419.6 1859.3M584.5 1826.4L471.7 2013.2M584.5 1826.4L580.5 1942.5M584.5 1826.4L619.2 1979.2M584.5 1826.4L470 1829.7M584.5 1826.4L698.4 1896.8M584.5 1826.4L507.6 1971.2M584.5 1826.4L438.4 1886M771.9 2217.6L724.8 2169.8M771.9 2217.6L726.7 2105.3M771.9 2217.6L750.3 2266.6M771.9 2217.6L724.3 2150.7M771.9 2217.6L664 2195.3M771.9 2217.6L808.1 2161.3M771.9 2217.6L712.4 2215.6M405.6 1916.5L571.7 1862M405.6 1916.5L498.2 1920.4M405.6 1916.5L359.6 1879.3M405.6 1916.5L428.4 1919M405.6 1916.5L475.8 2035.2M405.6 1916.5L478.5 1984.7M405.6 1916.5L557 1800.6M405.6 1916.5L447 2015.1M405.6 1916.5L663.4 1953.5M405.6 1916.5L323.9 1946.5M405.6 1916.5L425 2055.5M405.6 1916.5L417.1 2005M405.6 1916.5L357.8 1901.7M405.6 1916.5L282.3 1858.1M405.6 1916.5L334.4 1914.5M405.6 1916.5L324.6 1849.7M405.6 1916.5L348.1 2002.9M405.6 1916.5L448.5 2165M405.6 1916.5L683.9 1922.3M405.6 1916.5L634 1908.9M405.6 1916.5L449.8 1985.3M405.6 1916.5L398.2 2100.6M405.6 1916.5L386.3 2070.1M405.6 1916.5L355.9 2078.8M405.6 1916.5L302.9 1936.4M405.6 1916.5L308.8 1975.2M405.6 1916.5L632.9 1934.7M405.6 1916.5L589.4 2004.1M405.6 1916.5L410 2151.6M405.6 1916.5L345.8 2136.3"/>
<path d="M405.6 1916.5L348 1982.7M405.6 1916.5L354.3 1950M405.6 1916.5L303.9 1955.2M405.6 1916.5L295.8 2085.1M405.6 1916.5L314.5 2032.2M405.6 1916.5L399.9 2122.7M405.6 1916.5L580.5 1942.5M405.6 1916.5L507.6 1971.2M405.6 1916.5L379.8 1808.3M405.6 1916.5L283.4 1909.8M724.8 2169.8L726.7 2105.3M724.8 2169.8L621.6 2120M724.8 2169.8L724.3 2150.7M724.8 2169.8L808.1 2161.3M724.8 2169.8L712.4 2215.6M571.7 1862L498.2 1920.4M571.7 1862L526.2 2019.8M571.7 1862L579.5 1890.6M571.7 1862L563 2016.9M571.7 1862L550.4 1892.2M571.7 1862L420 1961.7M571.7 1862L428.4 1919M571.7 1862L475.8 2035.2M571.7 1862L477.4 2059.2M571.7 1862L533.9 1964.1M571.7 1862L533.9 1988.1M571.7 1862L478.5 1984.7M571.7 1862L586.4 2055.7M571.7 1862L557 1800.6M571.7 1862L608.2 1901.1M571.7 1862L562 1977.5M571.7 1862L508.1 1839.3M571.7 1862L447 2015.1M571.7 1862L373.9 2008.8M571.7 1862L663.4 1953.5M571.7 1862L533.5 1821.7M571.7 1862L607.7 1878M571.7 1862L417.1 2005M571.7 1862L471.6 1932.4M571.7 1862L660.4 1908.2M571.7 1862L621.8 1855.1M571.7 1862L585.2 1799.4M571.7 1862L706.9 1938.7M571.7 1862L683.9 1922.3M571.7 1862L565.2 1917.6M571.7 1862L632.2 1828.1M571.7 1862L645.8 1986.4M571.7 1862L614.5 2006.2M571.7 1862L634 1908.9M571.7 1862L516.8 1783.4M571.7 1862L535.6 1756.4M571.7 1862L449.8 1985.3M571.7 1862L355.9 2078.8M571.7 1862L634.7 1883M571.7 1862L539.8 1857.4M571.7 1862L632.9 1934.7M571.7 1862L515.2 1864.4M571.7 1862L523.4 1894.5M571.7 1862L508.6 1813.5M571.7 1862L526.2 1931.7"/>
<path d="M571.7 1862L476.6 2107.6M571.7 1862L598.3 1854.4M571.7 1862L507.4 1994M571.7 1862L544.6 2046.2M571.7 1862L464.9 1877.6M571.7 1862L659.4 1930M571.7 1862L608.6 1943.9M571.7 1862L677.5 1856.7M571.7 1862L490.5 1878.7M571.7 1862L449.8 1916.5M571.7 1862L419.6 1859.3M571.7 1862L671.4 1878M571.7 1862L586.3 1968.1M571.7 1862L448.6 1844.5M571.7 1862L580.5 1942.5M571.7 1862L395.5 2008.8M571.7 1862L619.2 1979.2M571.7 1862L470 1829.7M571.7 1862L698.4 1896.8M571.7 1862L507.6 1971.2M571.7 1862L438.4 1886M498.2 1920.4L526.2 2019.8M498.2 1920.4L579.5 1890.6M498.2 1920.4L563 2016.9M498.2 1920.4L398.7 1959.3M498.2 1920.4L561.5 1837.9M498.2 1920.4L550.4 1892.2M498.2 1920.4L420 1961.7M498.2 1920.4L441.7 1962.8M498.2 1920.4L428.4 1919M498.2 1920.4L477.4 2059.2M498.2 1920.4L533.9 1964.1M498.2 1920.4L533.9 1988.1M498.2 1920.4L478.5 1984.7M498.2 1920.4L447.2 2050.7M498.2 1920.4L557 1800.6M498.2 1920.4L608.2 1901.1M498.2 1920.4L562 1977.5M498.2 1920.4L515.2 1763.4M498.2 1920.4L508.1 1839.3M498.2 1920.4L566.2 2054M498.2 1920.4L373.9 2008.8M498.2 1920.4L663.4 1953.5M498.2 1920.4L399 1892.9M498.2 1920.4L348.1 2002.9M498.2 1920.4L471.6 1932.4M498.2 1920.4L660.4 1908.2M498.2 1920.4L621.8 1855.1M498.2 1920.4L585.2 1799.4M498.2 1920.4L706.9 1938.7M498.2 1920.4L683.9 1922.3M498.2 1920.4L565.2 1917.6M498.2 1920.4L632.2 1828.1M498.2 1920.4L645.8 1986.4M498.2 1920.4L614.5 2006.2M498.2 1920.4L634 1908.9M498.2 1920.4L656.9 1824.1M498.2 1920.4L449.8 1985.3M498.2 1920.4L430.9 2085.3M498.2 1920.4L634.7 1883"/>
<path d="M498.2 1920.4L539.8 1857.4M498.2 1920.4L632.9 1934.7M498.2 1920.4L589.4 2004.1M498.2 1920.4L515.2 1864.4M498.2 1920.4L523.4 1894.5M498.2 1920.4L508.6 1813.5M498.2 1920.4L526.2 1931.7M498.2 1920.4L598.3 1854.4M498.2 1920.4L544.6 2046.2M498.2 1920.4L464.9 1877.6M498.2 1920.4L341.1 2054M498.2 1920.4L608.6 1943.9M498.2 1920.4L677.5 1856.7M498.2 1920.4L490.5 1878.7M498.2 1920.4L671.4 1878M498.2 1920.4L478 1810M498.2 1920.4L586.3 1968.1M498.2 1920.4L580.5 1942.5M498.2 1920.4L619.2 1979.2M498.2 1920.4L698.4 1896.8M498.2 1920.4L507.6 1971.2M498.2 1920.4L399.2 1870.9M498.2 1920.4L438.4 1886M726.7 2105.3L621.6 2120M726.7 2105.3L724.3 2150.7M726.7 2105.3L664 2195.3M726.7 2105.3L808.1 2161.3M726.7 2105.3L712.4 2215.6M726.7 2105.3L749.8 2051.8M85.6 2359.1L123.3 2335.8M359.6 1879.3L478.5 1984.7M359.6 1879.3L309.3 1799.2M359.6 1879.3L315.4 1871.4M359.6 1879.3L357.8 1901.7M359.6 1879.3L324.6 1849.7M359.6 1879.3L411.8 1778.2M831.8 2047.4L788.3 2038.8M831.8 2047.4L818.8 2006.4M831.8 2047.4L802.1 2080M526.2 2019.8L579.5 1890.6M526.2 2019.8L563 2016.9M526.2 2019.8L521.2 2094.6M526.2 2019.8L550.4 1892.2M526.2 2019.8L420 1961.7M526.2 2019.8L441.7 1962.8M526.2 2019.8L475.8 2035.2M526.2 2019.8L477.4 2059.2M526.2 2019.8L533.9 1964.1M526.2 2019.8L533.9 1988.1M526.2 2019.8L478.5 1984.7M526.2 2019.8L517.5 2074.7M526.2 2019.8L586.4 2055.7M526.2 2019.8L557 1800.6M526.2 2019.8L608.2 1901.1M526.2 2019.8L562 1977.5M526.2 2019.8L508.1 1839.3M526.2 2019.8L447 2015.1M526.2 2019.8L455.1 2109.3M526.2 2019.8L663.4 1953.5M526.2 2019.8L533.5 1821.7"/>
<path d="M526.2 2019.8L527.6 2115.1M526.2 2019.8L607.7 1878M526.2 2019.8L399 1892.9M526.2 2019.8L348.1 2002.9M526.2 2019.8L471.6 1932.4M526.2 2019.8L660.4 1908.2M526.2 2019.8L621.8 1855.1M526.2 2019.8L585.2 1799.4M526.2 2019.8L683.9 1922.3M526.2 2019.8L565.2 1917.6M526.2 2019.8L632.2 1828.1M526.2 2019.8L645.8 1986.4M526.2 2019.8L614.5 2006.2M526.2 2019.8L634 1908.9M526.2 2019.8L656.9 1824.1M526.2 2019.8L516.8 1783.4M526.2 2019.8L449.8 1985.3M526.2 2019.8L386.3 2070.1M526.2 2019.8L355.9 2078.8M526.2 2019.8L634.7 1883M526.2 2019.8L539.8 1857.4M526.2 2019.8L632.9 1934.7M526.2 2019.8L589.4 2004.1M526.2 2019.8L515.2 1864.4M526.2 2019.8L523.4 1894.5M526.2 2019.8L508.6 1813.5M526.2 2019.8L526.2 1931.7M526.2 2019.8L598.3 1854.4M526.2 2019.8L544.6 2046.2M526.2 2019.8L464.9 1877.6M526.2 2019.8L659.4 1930M526.2 2019.8L608.6 1943.9M526.2 2019.8L677.5 1856.7M526.2 2019.8L354.3 1950M526.2 2019.8L490.5 1878.7M526.2 2019.8L449.8 1916.5M526.2 2019.8L471.7 2013.2M526.2 2019.8L671.4 1878M526.2 2019.8L448.6 1844.5M526.2 2019.8L352.4 2115.9M526.2 2019.8L580.5 1942.5M526.2 2019.8L619.2 1979.2M526.2 2019.8L698.4 1896.8M526.2 2019.8L507.8 2054M526.2 2019.8L507.6 1971.2M526.2 2019.8L399.2 1870.9M526.2 2019.8L438.4 1886M579.5 1890.6L563 2016.9M579.5 1890.6L550.4 1892.2M579.5 1890.6L420 1961.7M579.5 1890.6L475.8 2035.2M579.5 1890.6L533.9 1964.1M579.5 1890.6L533.9 1988.1M579.5 1890.6L478.5 1984.7M579.5 1890.6L517.5 2074.7M579.5 1890.6L586.4 2055.7M579.5 1890.6L557 1800.6M579.5 1890.6L608.2 1901.1M579.5 1890.6L562 1977.5M579.5 1890.6L508.1 1839.3"/>
<path d="M579.5 1890.6L663.4 1953.5M579.5 1890.6L533.5 1821.7M579.5 1890.6L607.7 1878M579.5 1890.6L417.1 2005M579.5 1890.6L471.6 1932.4M579.5 1890.6L660.4 1908.2M579.5 1890.6L621.8 1855.1M579.5 1890.6L585.2 1799.4M579.5 1890.6L706.9 1938.7M579.5 1890.6L683.9 1922.3M579.5 1890.6L565.2 1917.6M579.5 1890.6L632.2 1828.1M579.5 1890.6L645.8 1986.4M579.5 1890.6L614.5 2006.2M579.5 1890.6L634 1908.9M579.5 1890.6L656.9 1824.1M579.5 1890.6L516.8 1783.4M579.5 1890.6L449.8 1985.3M579.5 1890.6L634.7 1883M579.5 1890.6L539.8 1857.4M579.5 1890.6L632.9 1934.7M579.5 1890.6L589.4 2004.1M579.5 1890.6L515.2 1864.4M579.5 1890.6L523.4 1894.5M579.5 1890.6L508.6 1813.5M579.5 1890.6L526.2 1931.7M579.5 1890.6L476.6 2107.6M579.5 1890.6L598.3 1854.4M579.5 1890.6L390.8 2047.1M579.5 1890.6L464.9 1877.6M579.5 1890.6L608.6 1943.9M579.5 1890.6L677.5 1856.7M579.5 1890.6L354.3 1950M579.5 1890.6L490.5 1878.7M579.5 1890.6L671.4 1878M579.5 1890.6L478 1810M579.5 1890.6L586.3 1968.1M579.5 1890.6L580.5 1942.5M579.5 1890.6L619.2 1979.2M579.5 1890.6L698.4 1896.8M579.5 1890.6L507.6 1971.2M579.5 1890.6L438.4 1886M563 2016.9L550.4 1892.2M563 2016.9L420 1961.7M563 2016.9L441.7 1962.8M563 2016.9L475.8 2035.2M563 2016.9L533.9 1964.1M563 2016.9L533.9 1988.1M563 2016.9L478.5 1984.7M563 2016.9L557 1800.6M563 2016.9L608.2 1901.1M563 2016.9L562 1977.5M563 2016.9L508.1 1839.3M563 2016.9L447 2015.1M563 2016.9L566.2 2054M563 2016.9L455.1 2109.3M563 2016.9L663.4 1953.5M563 2016.9L533.5 1821.7M563 2016.9L660.4 1908.2M563 2016.9L585.2 1799.4"/>
<path d="M563 2016.9L706.9 1938.7M563 2016.9L683.9 1922.3M563 2016.9L565.2 1917.6M563 2016.9L632.2 1828.1M563 2016.9L645.8 1986.4M563 2016.9L614.5 2006.2M563 2016.9L634 1908.9M563 2016.9L449.8 1985.3M563 2016.9L398.2 2100.6M563 2016.9L386.3 2070.1M563 2016.9L634.7 1883M563 2016.9L539.8 1857.4M563 2016.9L632.9 1934.7M563 2016.9L515.2 1864.4M563 2016.9L523.4 1894.5M563 2016.9L508.6 1813.5M563 2016.9L526.2 1931.7M563 2016.9L598.3 1854.4M563 2016.9L507.4 1994M563 2016.9L464.9 1877.6M563 2016.9L659.4 1930M563 2016.9L341.1 2054M563 2016.9L608.6 1943.9M563 2016.9L677.5 1856.7M563 2016.9L490.5 1878.7M563 2016.9L471.7 2013.2M563 2016.9L671.4 1878M563 2016.9L632.2 1956.4M563 2016.9L580.5 1942.5M563 2016.9L619.2 1979.2M563 2016.9L698.4 1896.8M563 2016.9L507.6 1971.2M563 2016.9L438.4 1886M521.2 2094.6L420 1961.7M521.2 2094.6L475.8 2035.2M521.2 2094.6L477.4 2059.2M521.2 2094.6L478.5 1984.7M521.2 2094.6L517.5 2074.7M521.2 2094.6L488.2 2151M521.2 2094.6L447.2 2050.7M521.2 2094.6L527.6 2115.1M521.2 2094.6L425 2055.5M521.2 2094.6L430.9 2085.3M521.2 2094.6L476.6 2107.6M521.2 2094.6L571.5 2119.3M521.2 2094.6L471.7 2013.2M398.7 1959.3L478.5 1984.7M398.7 1959.3L562 1977.5M398.7 1959.3L585.2 1799.4M398.7 1959.3L464.9 1877.6M398.7 1959.3L471.7 2013.2M398.7 1959.3L671.4 1878M398.7 1959.3L580.5 1942.5M561.5 1837.9L586.4 2055.7M561.5 1837.9L607.7 1878M561.5 1837.9L660.4 1908.2M561.5 1837.9L683.9 1922.3M561.5 1837.9L614.5 2006.2M561.5 1837.9L539.8 1857.4M561.5 1837.9L598.3 1854.4"/>
<path d="M561.5 1837.9L490.5 1878.7M561.5 1837.9L580.5 1942.5M550.4 1892.2L420 1961.7M550.4 1892.2L441.7 1962.8M550.4 1892.2L428.4 1919M550.4 1892.2L475.8 2035.2M550.4 1892.2L533.9 1964.1M550.4 1892.2L533.9 1988.1M550.4 1892.2L478.5 1984.7M550.4 1892.2L586.4 2055.7M550.4 1892.2L557 1800.6M550.4 1892.2L608.2 1901.1M550.4 1892.2L562 1977.5M550.4 1892.2L508.1 1839.3M550.4 1892.2L605.8 2028.5M550.4 1892.2L566.2 2054M550.4 1892.2L663.4 1953.5M550.4 1892.2L533.5 1821.7M550.4 1892.2L607.7 1878M550.4 1892.2L471.6 1932.4M550.4 1892.2L660.4 1908.2M550.4 1892.2L621.8 1855.1M550.4 1892.2L585.2 1799.4M550.4 1892.2L683.9 1922.3M550.4 1892.2L565.2 1917.6M550.4 1892.2L632.2 1828.1M550.4 1892.2L645.8 1986.4M550.4 1892.2L614.5 2006.2M550.4 1892.2L634 1908.9M550.4 1892.2L516.8 1783.4M550.4 1892.2L449.8 1985.3M550.4 1892.2L634.7 1883M550.4 1892.2L539.8 1857.4M550.4 1892.2L632.9 1934.7M550.4 1892.2L589.4 2004.1M550.4 1892.2L515.2 1864.4M550.4 1892.2L523.4 1894.5M550.4 1892.2L508.6 1813.5M550.4 1892.2L526.2 1931.7M550.4 1892.2L598.3 1854.4M550.4 1892.2L464.9 1877.6M550.4 1892.2L659.4 1930M550.4 1892.2L608.6 1943.9M550.4 1892.2L677.5 1856.7M550.4 1892.2L490.5 1878.7M550.4 1892.2L449.8 1916.5M550.4 1892.2L419.6 1859.3M550.4 1892.2L471.7 2013.2M550.4 1892.2L671.4 1878M550.4 1892.2L478 1810M550.4 1892.2L586.3 1968.1M550.4 1892.2L448.6 1844.5M550.4 1892.2L580.5 1942.5M550.4 1892.2L395.5 2008.8M550.4 1892.2L619.2 1979.2M550.4 1892.2L698.4 1896.8M550.4 1892.2L507.6 1971.2M550.4 1892.2L399.2 1870.9M550.4 1892.2L438.4 1886M420 1961.7L441.7 1962.8"/>
<path d="M420 1961.7L477.4 2059.2M420 1961.7L533.9 1988.1M420 1961.7L478.5 1984.7M420 1961.7L517.5 2074.7M420 1961.7L447 2015.1M420 1961.7L425 2055.5M420 1961.7L417.1 2005M420 1961.7L660.4 1908.2M420 1961.7L585.2 1799.4M420 1961.7L516.8 1783.4M420 1961.7L449.8 1985.3M420 1961.7L634.7 1883M420 1961.7L390.8 2047.1M420 1961.7L464.9 1877.6M420 1961.7L619.2 1979.2M420 1961.7L399.2 1870.9M420 1961.7L438.4 1886M441.7 1962.8L478.5 1984.7M441.7 1962.8L608.2 1901.1M441.7 1962.8L562 1977.5M441.7 1962.8L634 1908.9M441.7 1962.8L516.8 1783.4M441.7 1962.8L355.9 2078.8M441.7 1962.8L632.9 1934.7M441.7 1962.8L508.6 1813.5M441.7 1962.8L526.2 1931.7M441.7 1962.8L598.3 1854.4M441.7 1962.8L464.9 1877.6M441.7 1962.8L448.6 1844.5M441.7 1962.8L580.5 1942.5M428.4 1919L477.4 2059.2M428.4 1919L478.5 1984.7M428.4 1919L557 1800.6M428.4 1919L373.9 2008.8M428.4 1919L663.4 1953.5M428.4 1919L471.6 1932.4M428.4 1919L449.4 1825.7M428.4 1919L656.9 1824.1M428.4 1919L634.7 1883M428.4 1919L390.8 2047.1M428.4 1919L464.9 1877.6M428.4 1919L586.3 1968.1M428.4 1919L580.5 1942.5M428.4 1919L507.8 2054M428.4 1919L438.4 1886M475.8 2035.2L477.4 2059.2M475.8 2035.2L432.1 2140.6M475.8 2035.2L613.4 1785.3M475.8 2035.2L478.5 1984.7M475.8 2035.2L447.2 2050.7M475.8 2035.2L562 1977.5M475.8 2035.2L508.1 1839.3M475.8 2035.2L447 2015.1M475.8 2035.2L269.3 2122.2M475.8 2035.2L373.9 2008.8M475.8 2035.2L455.1 2109.3M475.8 2035.2L527.6 2115.1M475.8 2035.2L425 2055.5M475.8 2035.2L417.1 2005M475.8 2035.2L348.1 2002.9"/>
<path d="M475.8 2035.2L471.6 1932.4M475.8 2035.2L392.5 2178.5M475.8 2035.2L634 1908.9M475.8 2035.2L449.8 1985.3M475.8 2035.2L430.9 2085.3M475.8 2035.2L374.7 2118.2M475.8 2035.2L398.2 2100.6M475.8 2035.2L386.3 2070.1M475.8 2035.2L355.9 2078.8M475.8 2035.2L634.7 1883M475.8 2035.2L476.6 2107.6M475.8 2035.2L390.8 2047.1M475.8 2035.2L354.3 1950M475.8 2035.2L335.7 2033.4M475.8 2035.2L314.5 2032.2M475.8 2035.2L490.5 1878.7M475.8 2035.2L449.8 1916.5M475.8 2035.2L441.2 1864.1M475.8 2035.2L586.3 1968.1M475.8 2035.2L399.9 2122.7M475.8 2035.2L580.5 1942.5M477.4 2059.2L533.9 1988.1M477.4 2059.2L517.5 2074.7M477.4 2059.2L488.2 2151M477.4 2059.2L447.2 2050.7M477.4 2059.2L557 1800.6M477.4 2059.2L447 2015.1M477.4 2059.2L455.1 2109.3M477.4 2059.2L663.4 1953.5M477.4 2059.2L527.6 2115.1M477.4 2059.2L425 2055.5M477.4 2059.2L506.9 2171M477.4 2059.2L417.1 2005M477.4 2059.2L348.1 2002.9M477.4 2059.2L706.9 1938.7M477.4 2059.2L614.5 2006.2M477.4 2059.2L516.8 1783.4M477.4 2059.2L449.8 1985.3M477.4 2059.2L430.9 2085.3M477.4 2059.2L374.7 2118.2M477.4 2059.2L398.2 2100.6M477.4 2059.2L386.3 2070.1M477.4 2059.2L355.9 2078.8M477.4 2059.2L515.2 1864.4M477.4 2059.2L410 2151.6M477.4 2059.2L390.8 2047.1M477.4 2059.2L544.6 2046.2M477.4 2059.2L464.9 1877.6M477.4 2059.2L619.2 1979.2M477.4 2059.2L698.4 1896.8M477.4 2059.2L507.6 1971.2M432.1 2140.6L488.2 2151M432.1 2140.6L447.2 2050.7M432.1 2140.6L608.2 1901.1M432.1 2140.6L562 1977.5M432.1 2140.6L455.1 2109.3M432.1 2140.6L417.1 2005M432.1 2140.6L348.1 2002.9M432.1 2140.6L634 1908.9M432.1 2140.6L430.9 2085.3"/>
<path d="M432.1 2140.6L374.7 2118.2M432.1 2140.6L398.2 2100.6M432.1 2140.6L420.3 2107M432.1 2140.6L589.4 2004.1M432.1 2140.6L476.6 2107.6M432.1 2140.6L410 2151.6M432.1 2140.6L390.8 2047.1M432.1 2140.6L345.8 2136.3M432.1 2140.6L354.3 1950M432.1 2140.6L314.5 2032.2M432.1 2140.6L399.9 2122.7M432.1 2140.6L395.5 2008.8M613.4 1785.3L605.8 2028.5M613.4 1785.3L634.7 1883M613.4 1785.3L681.1 1779.9M613.4 1785.3L677.5 1856.7M613.4 1785.3L580.5 1942.5M533.9 1964.1L478.5 1984.7M533.9 1964.1L557 1800.6M533.9 1964.1L608.2 1901.1M533.9 1964.1L663.4 1953.5M533.9 1964.1L425 2055.5M533.9 1964.1L471.6 1932.4M533.9 1964.1L643 2009.2M533.9 1964.1L565.2 1917.6M533.9 1964.1L632.2 1828.1M533.9 1964.1L614.5 2006.2M533.9 1964.1L634 1908.9M533.9 1964.1L656.9 1824.1M533.9 1964.1L449.8 1985.3M533.9 1964.1L515.2 1864.4M533.9 1964.1L345.8 2136.3M533.9 1964.1L295.8 2085.1M533.9 1964.1L490.5 1878.7M533.9 1964.1L441.2 1864.1M533.9 1964.1L471.7 2013.2M533.9 1964.1L580.5 1942.5M533.9 1964.1L619.2 1979.2M533.9 1964.1L698.4 1896.8M533.9 1988.1L478.5 1984.7M533.9 1988.1L557 1800.6M533.9 1988.1L608.2 1901.1M533.9 1988.1L562 1977.5M533.9 1988.1L508.1 1839.3M533.9 1988.1L447 2015.1M533.9 1988.1L566.2 2054M533.9 1988.1L663.4 1953.5M533.9 1988.1L533.5 1821.7M533.9 1988.1L348.1 2002.9M533.9 1988.1L471.6 1932.4M533.9 1988.1L660.4 1908.2M533.9 1988.1L621.8 1855.1M533.9 1988.1L585.2 1799.4M533.9 1988.1L706.9 1938.7M533.9 1988.1L683.9 1922.3M533.9 1988.1L565.2 1917.6M533.9 1988.1L632.2 1828.1M533.9 1988.1L645.8 1986.4M533.9 1988.1L614.5 2006.2M533.9 1988.1L634 1908.9"/>
<path d="M533.9 1988.1L449.8 1985.3M533.9 1988.1L430.9 2085.3M533.9 1988.1L634.7 1883M533.9 1988.1L539.8 1857.4M533.9 1988.1L632.9 1934.7M533.9 1988.1L589.4 2004.1M533.9 1988.1L515.2 1864.4M533.9 1988.1L523.4 1894.5M533.9 1988.1L508.6 1813.5M533.9 1988.1L526.2 1931.7M533.9 1988.1L476.6 2107.6M533.9 1988.1L598.3 1854.4M533.9 1988.1L507.4 1994M533.9 1988.1L390.8 2047.1M533.9 1988.1L544.6 2046.2M533.9 1988.1L464.9 1877.6M533.9 1988.1L608.6 1943.9M533.9 1988.1L677.5 1856.7M533.9 1988.1L295.8 2085.1M533.9 1988.1L490.5 1878.7M533.9 1988.1L449.8 1916.5M533.9 1988.1L671.4 1878M533.9 1988.1L478 1810M533.9 1988.1L586.3 1968.1M533.9 1988.1L448.6 1844.5M533.9 1988.1L580.5 1942.5M533.9 1988.1L619.2 1979.2M533.9 1988.1L470 1829.7M533.9 1988.1L698.4 1896.8M533.9 1988.1L507.6 1971.2M533.9 1988.1L399.2 1870.9M533.9 1988.1L438.4 1886M478.5 1984.7L517.5 2074.7M478.5 1984.7L488.2 2151M478.5 1984.7L447.2 2050.7M478.5 1984.7L557 1800.6M478.5 1984.7L608.2 1901.1M478.5 1984.7L562 1977.5M478.5 1984.7L508.1 1839.3M478.5 1984.7L566.2 2054M478.5 1984.7L663.4 1953.5M478.5 1984.7L323.9 1946.5M478.5 1984.7L527.6 2115.1M478.5 1984.7L357.8 1901.7M478.5 1984.7L471.6 1932.4M478.5 1984.7L660.4 1908.2M478.5 1984.7L621.8 1855.1M478.5 1984.7L585.2 1799.4M478.5 1984.7L706.9 1938.7M478.5 1984.7L683.9 1922.3M478.5 1984.7L565.2 1917.6M478.5 1984.7L632.2 1828.1M478.5 1984.7L645.8 1986.4M478.5 1984.7L614.5 2006.2M478.5 1984.7L634 1908.9M478.5 1984.7L656.9 1824.1M478.5 1984.7L516.8 1783.4M478.5 1984.7L449.8 1985.3M478.5 1984.7L634.7 1883M478.5 1984.7L539.8 1857.4"/>
<path d="M478.5 1984.7L632.9 1934.7M478.5 1984.7L589.4 2004.1M478.5 1984.7L515.2 1864.4M478.5 1984.7L523.4 1894.5M478.5 1984.7L508.6 1813.5M478.5 1984.7L526.2 1931.7M478.5 1984.7L476.6 2107.6M478.5 1984.7L598.3 1854.4M478.5 1984.7L507.4 1994M478.5 1984.7L390.8 2047.1M478.5 1984.7L464.9 1877.6M478.5 1984.7L608.6 1943.9M478.5 1984.7L348 1982.7M478.5 1984.7L677.5 1856.7M478.5 1984.7L314.5 2032.2M478.5 1984.7L490.5 1878.7M478.5 1984.7L449.8 1916.5M478.5 1984.7L419.6 1859.3M478.5 1984.7L441.2 1864.1M478.5 1984.7L471.7 2013.2M478.5 1984.7L671.4 1878M478.5 1984.7L586.3 1968.1M478.5 1984.7L448.6 1844.5M478.5 1984.7L580.5 1942.5M478.5 1984.7L395.5 2008.8M478.5 1984.7L619.2 1979.2M478.5 1984.7L698.4 1896.8M478.5 1984.7L507.6 1971.2M478.5 1984.7L438.4 1886M517.5 2074.7L488.2 2151M517.5 2074.7L566.2 2054M517.5 2074.7L425 2055.5M517.5 2074.7L571.5 2119.3M517.5 2074.7L471.7 2013.2M488.2 2151L425 2055.5M488.2 2151L506.9 2171M586.4 2055.7L643 2009.2M586.4 2055.7L706.9 1938.7M586.4 2055.7L683.9 1922.3M586.4 2055.7L632.2 1828.1M586.4 2055.7L645.8 1986.4M586.4 2055.7L614.5 2006.2M586.4 2055.7L656.9 1824.1M586.4 2055.7L589.4 2004.1M586.4 2055.7L608.6 1943.9M586.4 2055.7L677.5 1856.7M586.4 2055.7L671.4 1878M447.2 2050.7L447 2015.1M447.2 2050.7L455.1 2109.3M447.2 2050.7L527.6 2115.1M447.2 2050.7L425 2055.5M447.2 2050.7L417.1 2005M447.2 2050.7L430.9 2085.3M447.2 2050.7L374.7 2118.2M447.2 2050.7L398.2 2100.6M447.2 2050.7L386.3 2070.1M447.2 2050.7L355.9 2078.8M447.2 2050.7L632.9 1934.7M447.2 2050.7L526.2 1931.7M447.2 2050.7L390.8 2047.1"/>
<path d="M447.2 2050.7L345.8 2136.3M447.2 2050.7L354.3 1950M447.2 2050.7L314.5 2032.2M447.2 2050.7L419.6 1859.3M447.2 2050.7L352.4 2115.9M447.2 2050.7L580.5 1942.5M447.2 2050.7L619.2 1979.2M447.2 2050.7L507.8 2054M557 1800.6L608.2 1901.1M557 1800.6L562 1977.5M557 1800.6L522.2 1704.7M557 1800.6L591 1698.8M557 1800.6L508.1 1839.3M557 1800.6L663.4 1953.5M557 1800.6L533.5 1821.7M557 1800.6L607.7 1878M557 1800.6L471.6 1932.4M557 1800.6L411.8 1778.2M557 1800.6L532.3 1684.7M557 1800.6L621.8 1855.1M557 1800.6L585.2 1799.4M557 1800.6L565.2 1917.6M557 1800.6L632.2 1828.1M557 1800.6L614.5 2006.2M557 1800.6L634 1908.9M557 1800.6L449.8 1985.3M557 1800.6L430.9 2085.3M557 1800.6L634.7 1883M557 1800.6L539.8 1857.4M557 1800.6L632.9 1934.7M557 1800.6L515.2 1864.4M557 1800.6L523.4 1894.5M557 1800.6L508.6 1813.5M557 1800.6L526.2 1931.7M557 1800.6L598.3 1854.4M557 1800.6L464.9 1877.6M557 1800.6L341.1 2054M557 1800.6L608.6 1943.9M557 1800.6L335.7 2033.4M557 1800.6L490.5 1878.7M557 1800.6L449.8 1916.5M557 1800.6L671.4 1878M557 1800.6L478 1810M557 1800.6L586.3 1968.1M557 1800.6L580.5 1942.5M557 1800.6L619.2 1979.2M557 1800.6L470 1829.7M557 1800.6L698.4 1896.8M557 1800.6L507.6 1971.2M557 1800.6L399.2 1870.9M557 1800.6L438.4 1886M608.2 1901.1L562 1977.5M608.2 1901.1L515.2 1763.4M608.2 1901.1L508.1 1839.3M608.2 1901.1L663.4 1953.5M608.2 1901.1L533.5 1821.7M608.2 1901.1L449.4 1825.7M608.2 1901.1L643 2009.2M608.2 1901.1L660.4 1908.2M608.2 1901.1L585.2 1799.4"/>
<path d="M608.2 1901.1L706.9 1938.7M608.2 1901.1L683.9 1922.3M608.2 1901.1L565.2 1917.6M608.2 1901.1L632.2 1828.1M608.2 1901.1L645.8 1986.4M608.2 1901.1L614.5 2006.2M608.2 1901.1L634 1908.9M608.2 1901.1L516.8 1783.4M608.2 1901.1L449.8 1985.3M608.2 1901.1L374.7 2118.2M608.2 1901.1L355.9 2078.8M608.2 1901.1L420.3 2107M608.2 1901.1L634.7 1883M608.2 1901.1L539.8 1857.4M608.2 1901.1L632.9 1934.7M608.2 1901.1L589.4 2004.1M608.2 1901.1L515.2 1864.4M608.2 1901.1L523.4 1894.5M608.2 1901.1L508.6 1813.5M608.2 1901.1L526.2 1931.7M608.2 1901.1L598.3 1854.4M608.2 1901.1L507.4 1994M608.2 1901.1L464.9 1877.6M608.2 1901.1L659.4 1930M608.2 1901.1L608.6 1943.9M608.2 1901.1L677.5 1856.7M608.2 1901.1L490.5 1878.7M608.2 1901.1L419.6 1859.3M608.2 1901.1L471.7 2013.2M608.2 1901.1L448.6 1844.5M608.2 1901.1L580.5 1942.5M608.2 1901.1L619.2 1979.2M608.2 1901.1L698.4 1896.8M608.2 1901.1L507.6 1971.2M562 1977.5L508.1 1839.3M562 1977.5L605.8 2028.5M562 1977.5L663.4 1953.5M562 1977.5L471.6 1932.4M562 1977.5L660.4 1908.2M562 1977.5L621.8 1855.1M562 1977.5L585.2 1799.4M562 1977.5L706.9 1938.7M562 1977.5L683.9 1922.3M562 1977.5L565.2 1917.6M562 1977.5L632.2 1828.1M562 1977.5L645.8 1986.4M562 1977.5L614.5 2006.2M562 1977.5L634 1908.9M562 1977.5L516.8 1783.4M562 1977.5L449.8 1985.3M562 1977.5L634.7 1883M562 1977.5L539.8 1857.4M562 1977.5L632.9 1934.7M562 1977.5L589.4 2004.1M562 1977.5L515.2 1864.4M562 1977.5L523.4 1894.5M562 1977.5L508.6 1813.5M562 1977.5L526.2 1931.7M562 1977.5L598.3 1854.4M562 1977.5L507.4 1994"/>
<path d="M562 1977.5L464.9 1877.6M562 1977.5L608.6 1943.9M562 1977.5L354.3 1950M562 1977.5L490.5 1878.7M562 1977.5L449.8 1916.5M562 1977.5L471.7 2013.2M562 1977.5L671.4 1878M562 1977.5L580.5 1942.5M562 1977.5L619.2 1979.2M562 1977.5L698.4 1896.8M562 1977.5L507.6 1971.2M562 1977.5L399.2 1870.9M562 1977.5L438.4 1886M601.6 1762.7L522.2 1704.7M601.6 1762.7L591 1698.8M601.6 1762.7L663.4 1953.5M601.6 1762.7L490.5 1878.7M522.2 1704.7L515.2 1763.4M522.2 1704.7L591 1698.8M522.2 1704.7L443.5 1728.6M522.2 1704.7L532.3 1684.7M522.2 1704.7L516.8 1783.4M522.2 1704.7L535.6 1756.4M515.2 1763.4L591 1698.8M515.2 1763.4L443.5 1728.6M515.2 1763.4L515.2 1864.4M515.2 1763.4L586.3 1968.1M515.2 1763.4L448.6 1844.5M515.2 1763.4L458.8 1777M591 1698.8L535.6 1756.4M508.1 1839.3L663.4 1953.5M508.1 1839.3L471.6 1932.4M508.1 1839.3L449.4 1825.7M508.1 1839.3L660.4 1908.2M508.1 1839.3L621.8 1855.1M508.1 1839.3L585.2 1799.4M508.1 1839.3L683.9 1922.3M508.1 1839.3L632.2 1828.1M508.1 1839.3L645.8 1986.4M508.1 1839.3L614.5 2006.2M508.1 1839.3L634 1908.9M508.1 1839.3L535.6 1756.4M508.1 1839.3L449.8 1985.3M508.1 1839.3L634.7 1883M508.1 1839.3L539.8 1857.4M508.1 1839.3L498.7 2021.7M508.1 1839.3L632.9 1934.7M508.1 1839.3L589.4 2004.1M508.1 1839.3L515.2 1864.4M508.1 1839.3L523.4 1894.5M508.1 1839.3L508.6 1813.5M508.1 1839.3L526.2 1931.7M508.1 1839.3L598.3 1854.4M508.1 1839.3L464.9 1877.6M508.1 1839.3L608.6 1943.9M508.1 1839.3L490.5 1878.7M508.1 1839.3L671.4 1878M508.1 1839.3L580.5 1942.5M508.1 1839.3L619.2 1979.2M508.1 1839.3L698.4 1896.8"/>
<path d="M508.1 1839.3L507.6 1971.2M508.1 1839.3L438.4 1886M390.4 1734.5L411.8 1778.2M315.9 2170L374.7 2118.2M315.9 2170L386.3 2070.1M315.9 2170L390.8 2047.1M315.9 2170L345.8 2136.3M200.6 2288.3L162.6 2311.8M447 2015.1L455.1 2109.3M447 2015.1L417.1 2005M447 2015.1L334.4 1914.5M447 2015.1L392.5 2178.5M447 2015.1L585.2 1799.4M447 2015.1L706.9 1938.7M447 2015.1L683.9 1922.3M447 2015.1L430.9 2085.3M447 2015.1L374.7 2118.2M447 2015.1L398.2 2100.6M447 2015.1L386.3 2070.1M447 2015.1L355.9 2078.8M447 2015.1L308.8 1975.2M447 2015.1L598.3 1854.4M447 2015.1L390.8 2047.1M447 2015.1L341.1 2054M447 2015.1L348 1982.7M447 2015.1L354.3 1950M447 2015.1L490.5 1878.7M447 2015.1L399.9 2122.7M447 2015.1L395.5 2008.8M447 2015.1L619.2 1979.2M447 2015.1L698.4 1896.8M269.3 2122.2L198.3 2085.3M269.3 2122.2L158.8 2168M269.3 2122.2L398.2 2100.6M269.3 2122.2L390.8 2047.1M269.3 2122.2L341.1 2054M269.3 2122.2L345.8 2136.3M269.3 2122.2L295.8 2085.1M269.3 2122.2L314.5 2032.2M269.3 2122.2L399.9 2122.7M605.8 2028.5L417.1 2005M605.8 2028.5L585.2 1799.4M605.8 2028.5L632.9 1934.7M605.8 2028.5L544.6 2046.2M605.8 2028.5L490.5 1878.7M605.8 2028.5L507.6 1971.2M767.3 1898.5L660.4 1908.2M767.3 1898.5L706.9 1938.7M767.3 1898.5L634.7 1883M767.3 1898.5L698.4 1896.8M566.2 2054L471.6 1932.4M566.2 2054L660.4 1908.2M566.2 2054L621.8 1855.1M566.2 2054L656.9 1824.1M566.2 2054L374.7 2118.2M566.2 2054L632.9 1934.7M566.2 2054L523.4 1894.5M566.2 2054L526.2 1931.7M566.2 2054L619.2 1979.2M566.2 2054L507.8 2054"/>
<path d="M373.9 2008.8L334.4 1914.5M373.9 2008.8L386.3 2070.1M373.9 2008.8L355.9 2078.8M373.9 2008.8L420.3 2107M373.9 2008.8L390.8 2047.1M373.9 2008.8L341.1 2054M373.9 2008.8L608.6 1943.9M373.9 2008.8L399.9 2122.7M373.9 2008.8L395.5 2008.8M248.7 2288.3L256.5 2336.9M788.3 2038.8L818.8 2006.4M788.3 2038.8L802.1 2080M455.1 2109.3L417.1 2005M455.1 2109.3L430.9 2085.3M455.1 2109.3L374.7 2118.2M455.1 2109.3L386.3 2070.1M455.1 2109.3L390.8 2047.1M455.1 2109.3L345.8 2136.3M455.1 2109.3L335.7 2033.4M455.1 2109.3L352.4 2115.9M455.1 2109.3L507.8 2054M621.6 2120L724.3 2150.7M621.6 2120L664 2195.3M621.6 2120L712.4 2215.6M621.6 2120L571.5 2119.3M731.2 1861.9L632.2 1828.1M731.2 1861.9L634.7 1883M731.2 1861.9L698.4 1896.8M750.3 2266.6L712.4 2215.6M663.4 1953.5L533.5 1821.7M663.4 1953.5L607.7 1878M663.4 1953.5L399 1892.9M663.4 1953.5L471.6 1932.4M663.4 1953.5L660.4 1908.2M663.4 1953.5L585.2 1799.4M663.4 1953.5L706.9 1938.7M663.4 1953.5L683.9 1922.3M663.4 1953.5L565.2 1917.6M663.4 1953.5L735.3 1978.3M663.4 1953.5L632.2 1828.1M663.4 1953.5L645.8 1986.4M663.4 1953.5L614.5 2006.2M663.4 1953.5L634 1908.9M663.4 1953.5L449.8 1985.3M663.4 1953.5L634.7 1883M663.4 1953.5L539.8 1857.4M663.4 1953.5L694.3 2050.5M663.4 1953.5L632.9 1934.7M663.4 1953.5L670 1995.1M663.4 1953.5L515.2 1864.4M663.4 1953.5L523.4 1894.5M663.4 1953.5L508.6 1813.5M663.4 1953.5L526.2 1931.7M663.4 1953.5L598.3 1854.4M663.4 1953.5L544.6 2046.2M663.4 1953.5L464.9 1877.6M663.4 1953.5L608.6 1943.9M663.4 1953.5L677.5 1856.7M663.4 1953.5L354.3 1950M663.4 1953.5L449.8 1916.5"/>
<path d="M663.4 1953.5L671.4 1878M663.4 1953.5L586.3 1968.1M663.4 1953.5L632.2 1956.4M663.4 1953.5L580.5 1942.5M663.4 1953.5L619.2 1979.2M663.4 1953.5L698.4 1896.8M663.4 1953.5L507.6 1971.2M267 2009.3L417.1 2005M267 2009.3L348.1 2002.9M267 2009.3L282.3 1990M267 2009.3L386.3 2070.1M267 2009.3L390.8 2047.1M267 2009.3L341.1 2054M267 2009.3L335.7 2033.4M267 2009.3L314.5 2032.2M323.9 1946.5L309.3 1799.2M323.9 1946.5L357.8 1901.7M323.9 1946.5L302.9 1936.4M323.9 1946.5L308.8 1975.2M323.9 1946.5L390.8 2047.1M323.9 1946.5L348 1982.7M323.9 1946.5L354.3 1950M323.9 1946.5L230.6 1888.7M309.3 1799.2L357.8 1901.7M309.3 1799.2L324.6 1849.7M309.3 1799.2L443.5 1728.6M309.3 1799.2L276.9 1759.9M309.3 1799.2L230.6 1888.7M198.3 2085.3L158.8 2168M198.3 2085.3L295.8 2085.1M198.3 2085.3L314.5 2032.2M533.5 1821.7L660.4 1908.2M533.5 1821.7L585.2 1799.4M533.5 1821.7L565.2 1917.6M533.5 1821.7L645.8 1986.4M533.5 1821.7L614.5 2006.2M533.5 1821.7L535.6 1756.4M533.5 1821.7L634.7 1883M533.5 1821.7L523.4 1894.5M533.5 1821.7L476.6 2107.6M533.5 1821.7L507.4 1994M533.5 1821.7L608.6 1943.9M533.5 1821.7L490.5 1878.7M533.5 1821.7L619.2 1979.2M533.5 1821.7L698.4 1896.8M527.6 2115.1L430.9 2085.3M527.6 2115.1L560 2187M527.6 2115.1L476.6 2107.6M527.6 2115.1L390.8 2047.1M527.6 2115.1L571.5 2119.3M527.6 2115.1L490.5 1878.7M527.6 2115.1L556 2210.3M527.6 2115.1L507.8 2054M425 2055.5L506.9 2171M425 2055.5L417.1 2005M425 2055.5L471.6 1932.4M425 2055.5L645.8 1986.4M425 2055.5L430.9 2085.3M425 2055.5L355.9 2078.8M425 2055.5L634.7 1883"/>
<path d="M425 2055.5L539.8 1857.4M425 2055.5L508.6 1813.5M425 2055.5L390.8 2047.1M425 2055.5L354.3 1950M425 2055.5L295.8 2085.1M425 2055.5L352.4 2115.9M425 2055.5L399.9 2122.7M425 2055.5L395.5 2008.8M607.7 1878L585.2 1799.4M607.7 1878L706.9 1938.7M607.7 1878L565.2 1917.6M607.7 1878L632.2 1828.1M607.7 1878L645.8 1986.4M607.7 1878L614.5 2006.2M607.7 1878L449.8 1985.3M607.7 1878L634.7 1883M607.7 1878L515.2 1864.4M607.7 1878L508.6 1813.5M607.7 1878L526.2 1931.7M607.7 1878L598.3 1854.4M607.7 1878L295.8 2085.1M607.7 1878L671.4 1878M607.7 1878L478 1810M607.7 1878L580.5 1942.5M315.4 1871.4L357.8 1901.7M315.4 1871.4L282.3 1858.1M399 1892.9L589.4 2004.1M399 1892.9L508.6 1813.5M399 1892.9L476.6 2107.6M399 1892.9L586.3 1968.1M399 1892.9L399.2 1870.9M417.1 2005L334.4 1914.5M417.1 2005L348.1 2002.9M417.1 2005L448.5 2165M417.1 2005L565.2 1917.6M417.1 2005L282.3 1990M417.1 2005L430.9 2085.3M417.1 2005L374.7 2118.2M417.1 2005L398.2 2100.6M417.1 2005L386.3 2070.1M417.1 2005L355.9 2078.8M417.1 2005L308.8 1975.2M417.1 2005L598.3 1854.4M417.1 2005L390.8 2047.1M417.1 2005L464.9 1877.6M417.1 2005L341.1 2054M417.1 2005L303.9 1955.2M417.1 2005L295.8 2085.1M417.1 2005L471.7 2013.2M417.1 2005L399.9 2122.7M417.1 2005L580.5 1942.5M417.1 2005L507.8 2054M357.8 1901.7L324.6 1849.7M357.8 1901.7L471.6 1932.4M357.8 1901.7L390.8 2047.1M357.8 1901.7L354.3 1950M282.3 1858.1L334.4 1914.5M282.3 1858.1L324.6 1849.7M282.3 1858.1L354.3 1950M282.3 1858.1L236.4 1837"/>
<path d="M282.3 1858.1L379.8 1808.3M334.4 1914.5L324.6 1849.7M334.4 1914.5L348.1 2002.9M334.4 1914.5L308.8 1975.2M334.4 1914.5L390.8 2047.1M334.4 1914.5L354.3 1950M334.4 1914.5L441 1943.4M334.4 1914.5L379.8 1808.3M334.4 1914.5L283.4 1909.8M324.6 1849.7L308.8 1975.2M324.6 1849.7L354.3 1950M324.6 1849.7L379.8 1808.3M348.1 2002.9L448.5 2165M348.1 2002.9L645.8 1986.4M348.1 2002.9L282.3 1990M348.1 2002.9L430.9 2085.3M348.1 2002.9L374.7 2118.2M348.1 2002.9L398.2 2100.6M348.1 2002.9L386.3 2070.1M348.1 2002.9L355.9 2078.8M348.1 2002.9L308.8 1975.2M348.1 2002.9L526.2 1931.7M348.1 2002.9L476.6 2107.6M348.1 2002.9L410 2151.6M348.1 2002.9L390.8 2047.1M348.1 2002.9L341.1 2054M348.1 2002.9L274 2067M348.1 2002.9L348 1982.7M348.1 2002.9L354.3 1950M348.1 2002.9L295.8 2085.1M348.1 2002.9L438.4 1886M471.6 1932.4L660.4 1908.2M471.6 1932.4L585.2 1799.4M471.6 1932.4L632.2 1828.1M471.6 1932.4L614.5 2006.2M471.6 1932.4L634.7 1883M471.6 1932.4L539.8 1857.4M471.6 1932.4L632.9 1934.7M471.6 1932.4L589.4 2004.1M471.6 1932.4L515.2 1864.4M471.6 1932.4L523.4 1894.5M471.6 1932.4L526.2 1931.7M471.6 1932.4L598.3 1854.4M471.6 1932.4L544.6 2046.2M471.6 1932.4L464.9 1877.6M471.6 1932.4L677.5 1856.7M471.6 1932.4L335.7 2033.4M471.6 1932.4L490.5 1878.7M471.6 1932.4L449.8 1916.5M471.6 1932.4L580.5 1942.5M471.6 1932.4L698.4 1896.8M471.6 1932.4L507.6 1971.2M392.5 2178.5L448.5 2165M392.5 2178.5L430.9 2085.3M392.5 2178.5L374.7 2118.2M392.5 2178.5L398.2 2100.6M392.5 2178.5L386.3 2070.1M392.5 2178.5L410 2151.6M392.5 2178.5L390.8 2047.1M392.5 2178.5L464.9 1877.6"/>
<path d="M448.5 2165L585.2 1799.4M448.5 2165L355.9 2078.8M448.5 2165L508.6 1813.5M448.5 2165L390.8 2047.1M448.5 2165L345.8 2136.3M448.5 2165L354.3 1950M448.5 2165L335.7 2033.4M724.3 2150.7L664 2195.3M724.3 2150.7L808.1 2161.3M724.3 2150.7L712.4 2215.6M449.4 1825.7L585.2 1799.4M449.4 1825.7L634 1908.9M449.4 1825.7L449.8 1985.3M449.4 1825.7L539.8 1857.4M449.4 1825.7L508.6 1813.5M449.4 1825.7L490.5 1878.7M449.4 1825.7L478 1810M449.4 1825.7L458.8 1777M411.8 1778.2L443.5 1728.6M411.8 1778.2L379.8 1808.3M443.5 1728.6L532.3 1684.7M532.3 1684.7L535.6 1756.4M643 2009.2L660.4 1908.2M643 2009.2L516.8 1783.4M643 2009.2L580.5 1942.5M664 2195.3L712.4 2215.6M660.4 1908.2L585.2 1799.4M660.4 1908.2L706.9 1938.7M660.4 1908.2L683.9 1922.3M660.4 1908.2L565.2 1917.6M660.4 1908.2L632.2 1828.1M660.4 1908.2L645.8 1986.4M660.4 1908.2L614.5 2006.2M660.4 1908.2L634 1908.9M660.4 1908.2L430.9 2085.3M660.4 1908.2L634.7 1883M660.4 1908.2L539.8 1857.4M660.4 1908.2L632.9 1934.7M660.4 1908.2L515.2 1864.4M660.4 1908.2L523.4 1894.5M660.4 1908.2L508.6 1813.5M660.4 1908.2L526.2 1931.7M660.4 1908.2L598.3 1854.4M660.4 1908.2L390.8 2047.1M660.4 1908.2L464.9 1877.6M660.4 1908.2L659.4 1930M660.4 1908.2L608.6 1943.9M660.4 1908.2L677.5 1856.7M660.4 1908.2L354.3 1950M660.4 1908.2L399.9 2122.7M660.4 1908.2L580.5 1942.5M660.4 1908.2L619.2 1979.2M660.4 1908.2L698.4 1896.8M660.4 1908.2L507.6 1971.2M660.4 1908.2L438.4 1886M341.9 2311.1L379.4 2288.1M341.9 2311.1L304.1 2334.3M621.8 1855.1L585.2 1799.4M621.8 1855.1L683.9 1922.3M621.8 1855.1L632.2 1828.1"/>
<path d="M621.8 1855.1L645.8 1986.4M621.8 1855.1L614.5 2006.2M621.8 1855.1L634 1908.9M621.8 1855.1L634.7 1883M621.8 1855.1L539.8 1857.4M621.8 1855.1L632.9 1934.7M621.8 1855.1L515.2 1864.4M621.8 1855.1L508.6 1813.5M621.8 1855.1L526.2 1931.7M621.8 1855.1L598.3 1854.4M621.8 1855.1L507.4 1994M621.8 1855.1L464.9 1877.6M621.8 1855.1L677.5 1856.7M621.8 1855.1L671.4 1878M621.8 1855.1L580.5 1942.5M621.8 1855.1L619.2 1979.2M621.8 1855.1L470 1829.7M621.8 1855.1L507.6 1971.2M621.8 1855.1L438.4 1886M788.2 1837.5L799.9 1796.6M811.8 1755.5L799.9 1796.6M788.4 1959.6L812.3 1922M585.2 1799.4L706.9 1938.7M585.2 1799.4L683.9 1922.3M585.2 1799.4L565.2 1917.6M585.2 1799.4L632.2 1828.1M585.2 1799.4L645.8 1986.4M585.2 1799.4L614.5 2006.2M585.2 1799.4L634 1908.9M585.2 1799.4L516.8 1783.4M585.2 1799.4L449.8 1985.3M585.2 1799.4L355.9 2078.8M585.2 1799.4L634.7 1883M585.2 1799.4L539.8 1857.4M585.2 1799.4L632.9 1934.7M585.2 1799.4L589.4 2004.1M585.2 1799.4L515.2 1864.4M585.2 1799.4L523.4 1894.5M585.2 1799.4L508.6 1813.5M585.2 1799.4L526.2 1931.7M585.2 1799.4L598.3 1854.4M585.2 1799.4L507.4 1994M585.2 1799.4L464.9 1877.6M585.2 1799.4L608.6 1943.9M585.2 1799.4L677.5 1856.7M585.2 1799.4L441 1943.4M585.2 1799.4L295.8 2085.1M585.2 1799.4L490.5 1878.7M585.2 1799.4L449.8 1916.5M585.2 1799.4L419.6 1859.3M585.2 1799.4L441.2 1864.1M585.2 1799.4L671.4 1878M585.2 1799.4L580.5 1942.5M585.2 1799.4L395.5 2008.8M585.2 1799.4L619.2 1979.2M585.2 1799.4L470 1829.7M585.2 1799.4L698.4 1896.8M585.2 1799.4L507.8 2054M585.2 1799.4L507.6 1971.2M585.2 1799.4L438.4 1886"/>
<path d="M706.9 1938.7L735.3 1978.3M706.9 1938.7L632.2 1828.1M706.9 1938.7L645.8 1986.4M706.9 1938.7L614.5 2006.2M706.9 1938.7L634 1908.9M706.9 1938.7L449.8 1985.3M706.9 1938.7L632.9 1934.7M706.9 1938.7L515.2 1864.4M706.9 1938.7L508.6 1813.5M706.9 1938.7L526.2 1931.7M706.9 1938.7L598.3 1854.4M706.9 1938.7L659.4 1930M706.9 1938.7L471.7 2013.2M706.9 1938.7L728.3 1933.3M706.9 1938.7L671.4 1878M706.9 1938.7L448.6 1844.5M706.9 1938.7L580.5 1942.5M706.9 1938.7L395.5 2008.8M706.9 1938.7L619.2 1979.2M706.9 1938.7L698.4 1896.8M706.9 1938.7L507.6 1971.2M706.9 1938.7L438.4 1886M683.9 1922.3L735.3 1978.3M683.9 1922.3L632.2 1828.1M683.9 1922.3L645.8 1986.4M683.9 1922.3L614.5 2006.2M683.9 1922.3L634 1908.9M683.9 1922.3L449.8 1985.3M683.9 1922.3L374.7 2118.2M683.9 1922.3L386.3 2070.1M683.9 1922.3L634.7 1883M683.9 1922.3L632.9 1934.7M683.9 1922.3L589.4 2004.1M683.9 1922.3L508.6 1813.5M683.9 1922.3L526.2 1931.7M683.9 1922.3L598.3 1854.4M683.9 1922.3L608.6 1943.9M683.9 1922.3L677.5 1856.7M683.9 1922.3L490.5 1878.7M683.9 1922.3L419.6 1859.3M683.9 1922.3L728.3 1933.3M683.9 1922.3L671.4 1878M683.9 1922.3L632.2 1956.4M683.9 1922.3L580.5 1942.5M683.9 1922.3L619.2 1979.2M683.9 1922.3L698.4 1896.8M683.9 1922.3L399.2 1870.9M565.2 1917.6L614.5 2006.2M565.2 1917.6L634 1908.9M565.2 1917.6L516.8 1783.4M565.2 1917.6L449.8 1985.3M565.2 1917.6L634.7 1883M565.2 1917.6L539.8 1857.4M565.2 1917.6L498.7 2021.7M565.2 1917.6L589.4 2004.1M565.2 1917.6L523.4 1894.5M565.2 1917.6L508.6 1813.5M565.2 1917.6L526.2 1931.7M565.2 1917.6L598.3 1854.4M565.2 1917.6L464.9 1877.6"/>
<path d="M565.2 1917.6L659.4 1930M565.2 1917.6L608.6 1943.9M565.2 1917.6L490.5 1878.7M565.2 1917.6L419.6 1859.3M565.2 1917.6L580.5 1942.5M565.2 1917.6L619.2 1979.2M565.2 1917.6L507.6 1971.2M565.2 1917.6L438.4 1886M735.3 1978.3L645.8 1986.4M735.3 1978.3L614.5 2006.2M735.3 1978.3L725.7 1998.1M735.3 1978.3L670 1995.1M735.3 1978.3L749.8 2051.8M632.2 1828.1L645.8 1986.4M632.2 1828.1L614.5 2006.2M632.2 1828.1L634 1908.9M632.2 1828.1L711.6 1843M632.2 1828.1L449.8 1985.3M632.2 1828.1L355.9 2078.8M632.2 1828.1L634.7 1883M632.2 1828.1L539.8 1857.4M632.2 1828.1L632.9 1934.7M632.2 1828.1L515.2 1864.4M632.2 1828.1L523.4 1894.5M632.2 1828.1L508.6 1813.5M632.2 1828.1L526.2 1931.7M632.2 1828.1L598.3 1854.4M632.2 1828.1L390.8 2047.1M632.2 1828.1L464.9 1877.6M632.2 1828.1L659.4 1930M632.2 1828.1L608.6 1943.9M632.2 1828.1L677.5 1856.7M632.2 1828.1L490.5 1878.7M632.2 1828.1L449.8 1916.5M632.2 1828.1L471.7 2013.2M632.2 1828.1L671.4 1878M632.2 1828.1L399.9 2122.7M632.2 1828.1L580.5 1942.5M632.2 1828.1L619.2 1979.2M632.2 1828.1L470 1829.7M632.2 1828.1L698.4 1896.8M632.2 1828.1L507.6 1971.2M632.2 1828.1L438.4 1886M729.2 1824L711.6 1843M645.8 1986.4L614.5 2006.2M645.8 1986.4L634 1908.9M645.8 1986.4L656.9 1824.1M645.8 1986.4L449.8 1985.3M645.8 1986.4L386.3 2070.1M645.8 1986.4L634.7 1883M645.8 1986.4L539.8 1857.4M645.8 1986.4L632.9 1934.7M645.8 1986.4L670 1995.1M645.8 1986.4L515.2 1864.4M645.8 1986.4L523.4 1894.5M645.8 1986.4L508.6 1813.5M645.8 1986.4L526.2 1931.7M645.8 1986.4L476.6 2107.6M645.8 1986.4L598.3 1854.4M645.8 1986.4L464.9 1877.6"/>
<path d="M645.8 1986.4L659.4 1930M645.8 1986.4L341.1 2054M645.8 1986.4L608.6 1943.9M645.8 1986.4L314.5 2032.2M645.8 1986.4L490.5 1878.7M645.8 1986.4L580.5 1942.5M645.8 1986.4L619.2 1979.2M645.8 1986.4L698.4 1896.8M645.8 1986.4L507.6 1971.2M645.8 1986.4L438.4 1886M614.5 2006.2L634 1908.9M614.5 2006.2L449.8 1985.3M614.5 2006.2L374.7 2118.2M614.5 2006.2L355.9 2078.8M614.5 2006.2L634.7 1883M614.5 2006.2L539.8 1857.4M614.5 2006.2L694.3 2050.5M614.5 2006.2L632.9 1934.7M614.5 2006.2L589.4 2004.1M614.5 2006.2L515.2 1864.4M614.5 2006.2L523.4 1894.5M614.5 2006.2L508.6 1813.5M614.5 2006.2L526.2 1931.7M614.5 2006.2L476.6 2107.6M614.5 2006.2L598.3 1854.4M614.5 2006.2L507.4 1994M614.5 2006.2L390.8 2047.1M614.5 2006.2L464.9 1877.6M614.5 2006.2L659.4 1930M614.5 2006.2L608.6 1943.9M614.5 2006.2L677.5 1856.7M614.5 2006.2L419.6 1859.3M614.5 2006.2L441.2 1864.1M614.5 2006.2L671.4 1878M614.5 2006.2L586.3 1968.1M614.5 2006.2L580.5 1942.5M614.5 2006.2L619.2 1979.2M614.5 2006.2L470 1829.7M614.5 2006.2L698.4 1896.8M614.5 2006.2L507.6 1971.2M634 1908.9L634.7 1883M634 1908.9L539.8 1857.4M634 1908.9L632.9 1934.7M634 1908.9L589.4 2004.1M634 1908.9L515.2 1864.4M634 1908.9L508.6 1813.5M634 1908.9L526.2 1931.7M634 1908.9L598.3 1854.4M634 1908.9L507.4 1994M634 1908.9L390.8 2047.1M634 1908.9L464.9 1877.6M634 1908.9L608.6 1943.9M634 1908.9L677.5 1856.7M634 1908.9L490.5 1878.7M634 1908.9L728.3 1933.3M634 1908.9L671.4 1878M634 1908.9L586.3 1968.1M634 1908.9L580.5 1942.5M634 1908.9L619.2 1979.2M634 1908.9L698.4 1896.8"/>
<path d="M634 1908.9L507.6 1971.2M634 1908.9L438.4 1886M656.9 1824.1L516.8 1783.4M656.9 1824.1L634.7 1883M656.9 1824.1L508.6 1813.5M656.9 1824.1L598.3 1854.4M656.9 1824.1L677.5 1824.1M516.8 1783.4L523.4 1894.5M516.8 1783.4L508.6 1813.5M516.8 1783.4L598.3 1854.4M516.8 1783.4L464.9 1877.6M516.8 1783.4L677.5 1856.7M516.8 1783.4L490.5 1878.7M516.8 1783.4L471.7 2013.2M516.8 1783.4L478 1810M516.8 1783.4L586.3 1968.1M516.8 1783.4L580.5 1942.5M516.8 1783.4L507.6 1971.2M516.8 1783.4L399.2 1870.9M516.8 1783.4L458.8 1777M711.6 1843L677.5 1856.7M711.6 1843L671.4 1878M535.6 1756.4L476.6 2107.6M535.6 1756.4L458.8 1777M535.6 1756.4L438.4 1886M429.3 2288.1L426.9 2332.5M282.3 1990L308.8 1975.2M282.3 1990L390.8 2047.1M282.3 1990L341.1 2054M282.3 1990L314.5 2032.2M282.3 1990L230.6 1888.7M478.7 2288.2L477.4 2332.3M449.8 1985.3L634.7 1883M449.8 1985.3L589.4 2004.1M449.8 1985.3L515.2 1864.4M449.8 1985.3L523.4 1894.5M449.8 1985.3L508.6 1813.5M449.8 1985.3L526.2 1931.7M449.8 1985.3L598.3 1854.4M449.8 1985.3L464.9 1877.6M449.8 1985.3L659.4 1930M449.8 1985.3L608.6 1943.9M449.8 1985.3L441 1943.4M449.8 1985.3L471.7 2013.2M449.8 1985.3L671.4 1878M449.8 1985.3L586.3 1968.1M449.8 1985.3L580.5 1942.5M449.8 1985.3L619.2 1979.2M449.8 1985.3L698.4 1896.8M449.8 1985.3L507.6 1971.2M449.8 1985.3L438.4 1886M430.9 2085.3L374.7 2118.2M430.9 2085.3L398.2 2100.6M430.9 2085.3L386.3 2070.1M430.9 2085.3L355.9 2078.8M430.9 2085.3L508.6 1813.5M430.9 2085.3L410 2151.6M430.9 2085.3L390.8 2047.1M430.9 2085.3L464.9 1877.6M430.9 2085.3L341.1 2054"/>
<path d="M430.9 2085.3L608.6 1943.9M430.9 2085.3L354.3 1950M430.9 2085.3L295.8 2085.1M430.9 2085.3L314.5 2032.2M430.9 2085.3L395.5 2008.8M430.9 2085.3L698.4 1896.8M430.9 2085.3L507.8 2054M430.9 2085.3L507.6 1971.2M430.9 2085.3L438.4 1886M374.7 2118.2L398.2 2100.6M374.7 2118.2L386.3 2070.1M374.7 2118.2L355.9 2078.8M374.7 2118.2L390.8 2047.1M374.7 2118.2L345.8 2136.3M374.7 2118.2L354.3 1950M374.7 2118.2L490.5 1878.7M374.7 2118.2L352.4 2115.9M374.7 2118.2L399.9 2122.7M374.7 2118.2L310.1 2242.2M398.2 2100.6L386.3 2070.1M398.2 2100.6L355.9 2078.8M398.2 2100.6L420.3 2107M398.2 2100.6L515.2 1864.4M398.2 2100.6L523.4 1894.5M398.2 2100.6L410 2151.6M398.2 2100.6L598.3 1854.4M398.2 2100.6L390.8 2047.1M398.2 2100.6L464.9 1877.6M398.2 2100.6L341.1 2054M398.2 2100.6L345.8 2136.3M398.2 2100.6L335.7 2033.4M398.2 2100.6L295.8 2085.1M398.2 2100.6L478 1810M398.2 2100.6L352.4 2115.9M398.2 2100.6L399.9 2122.7M398.2 2100.6L507.6 1971.2M386.3 2070.1L355.9 2078.8M386.3 2070.1L632.9 1934.7M386.3 2070.1L508.6 1813.5M386.3 2070.1L390.8 2047.1M386.3 2070.1L345.8 2136.3M386.3 2070.1L295.8 2085.1M386.3 2070.1L314.5 2032.2M386.3 2070.1L490.5 1878.7M386.3 2070.1L399.9 2122.7M386.3 2070.1L507.6 1971.2M355.9 2078.8L476.6 2107.6M355.9 2078.8L410 2151.6M355.9 2078.8L390.8 2047.1M355.9 2078.8L341.1 2054M355.9 2078.8L354.3 1950M355.9 2078.8L335.7 2033.4M355.9 2078.8L295.8 2085.1M355.9 2078.8L419.6 1859.3M355.9 2078.8L399.9 2122.7M420.3 2107L526.2 1931.7M420.3 2107L314.5 2032.2M634.7 1883L539.8 1857.4M634.7 1883L632.9 1934.7M634.7 1883L515.2 1864.4"/>
<path d="M634.7 1883L523.4 1894.5M634.7 1883L508.6 1813.5M634.7 1883L526.2 1931.7M634.7 1883L598.3 1854.4M634.7 1883L507.4 1994M634.7 1883L390.8 2047.1M634.7 1883L544.6 2046.2M634.7 1883L464.9 1877.6M634.7 1883L659.4 1930M634.7 1883L608.6 1943.9M634.7 1883L677.5 1856.7M634.7 1883L419.6 1859.3M634.7 1883L671.4 1878M634.7 1883L478 1810M634.7 1883L586.3 1968.1M634.7 1883L580.5 1942.5M634.7 1883L619.2 1979.2M634.7 1883L698.4 1896.8M634.7 1883L507.6 1971.2M634.7 1883L438.4 1886M539.8 1857.4L589.4 2004.1M539.8 1857.4L515.2 1864.4M539.8 1857.4L523.4 1894.5M539.8 1857.4L508.6 1813.5M539.8 1857.4L526.2 1931.7M539.8 1857.4L598.3 1854.4M539.8 1857.4L464.9 1877.6M539.8 1857.4L608.6 1943.9M539.8 1857.4L677.5 1856.7M539.8 1857.4L490.5 1878.7M539.8 1857.4L441.2 1864.1M539.8 1857.4L671.4 1878M539.8 1857.4L586.3 1968.1M539.8 1857.4L580.5 1942.5M539.8 1857.4L619.2 1979.2M539.8 1857.4L507.6 1971.2M539.8 1857.4L438.4 1886M663.5 2288.3L664.9 2331.5M302.9 1936.4L354.3 1950M302.9 1936.4L303.9 1955.2M308.8 1975.2L390.8 2047.1M308.8 1975.2L341.1 2054M308.8 1975.2L348 1982.7M308.8 1975.2L354.3 1950M308.8 1975.2L303.9 1955.2M308.8 1975.2L314.5 2032.2M567.8 2229.5L560 2187M556.4 2252.8L556 2210.3M498.7 2021.7L580.5 1942.5M498.7 2021.7L507.6 1971.2M378.7 1873L464.9 1877.6M378.7 1873L448.6 1844.5M378.7 1873L399.2 1870.9M694.3 2050.5L725.7 1998.1M694.3 2050.5L632.9 1934.7M694.3 2050.5L670 1995.1M694.3 2050.5L589.4 2004.1M694.3 2050.5L728.3 1933.3M725.7 1998.1L632.9 1934.7M725.7 1998.1L670 1995.1"/>
<path d="M725.7 1998.1L589.4 2004.1M725.7 1998.1L728.3 1933.3M725.7 1998.1L749.8 2051.8M632.9 1934.7L670 1995.1M632.9 1934.7L589.4 2004.1M632.9 1934.7L515.2 1864.4M632.9 1934.7L508.6 1813.5M632.9 1934.7L526.2 1931.7M632.9 1934.7L598.3 1854.4M632.9 1934.7L464.9 1877.6M632.9 1934.7L659.4 1930M632.9 1934.7L608.6 1943.9M632.9 1934.7L677.5 1856.7M632.9 1934.7L354.3 1950M632.9 1934.7L490.5 1878.7M632.9 1934.7L471.7 2013.2M632.9 1934.7L728.3 1933.3M632.9 1934.7L586.3 1968.1M632.9 1934.7L580.5 1942.5M632.9 1934.7L619.2 1979.2M632.9 1934.7L698.4 1896.8M632.9 1934.7L507.6 1971.2M670 1995.1L589.4 2004.1M670 1995.1L728.3 1933.3M670 1995.1L580.5 1942.5M589.4 2004.1L515.2 1864.4M589.4 2004.1L526.2 1931.7M589.4 2004.1L544.6 2046.2M589.4 2004.1L464.9 1877.6M589.4 2004.1L659.4 1930M589.4 2004.1L677.5 1856.7M589.4 2004.1L728.3 1933.3M589.4 2004.1L580.5 1942.5M515.2 1864.4L523.4 1894.5M515.2 1864.4L508.6 1813.5M515.2 1864.4L526.2 1931.7M515.2 1864.4L598.3 1854.4M515.2 1864.4L390.8 2047.1M515.2 1864.4L464.9 1877.6M515.2 1864.4L608.6 1943.9M515.2 1864.4L677.5 1856.7M515.2 1864.4L490.5 1878.7M515.2 1864.4L449.8 1916.5M515.2 1864.4L478 1810M515.2 1864.4L586.3 1968.1M515.2 1864.4L580.5 1942.5M515.2 1864.4L619.2 1979.2M515.2 1864.4L470 1829.7M515.2 1864.4L507.6 1971.2M515.2 1864.4L458.8 1777M515.2 1864.4L438.4 1886M523.4 1894.5L508.6 1813.5M523.4 1894.5L526.2 1931.7M523.4 1894.5L464.9 1877.6M523.4 1894.5L659.4 1930M523.4 1894.5L608.6 1943.9M523.4 1894.5L490.5 1878.7M523.4 1894.5L449.8 1916.5M523.4 1894.5L419.6 1859.3M523.4 1894.5L671.4 1878"/>
<path d="M523.4 1894.5L478 1810M523.4 1894.5L586.3 1968.1M523.4 1894.5L580.5 1942.5M523.4 1894.5L619.2 1979.2M523.4 1894.5L507.6 1971.2M523.4 1894.5L399.2 1870.9M523.4 1894.5L438.4 1886M808.1 2161.3L712.4 2215.6M508.6 1813.5L526.2 1931.7M508.6 1813.5L598.3 1854.4M508.6 1813.5L390.8 2047.1M508.6 1813.5L464.9 1877.6M508.6 1813.5L608.6 1943.9M508.6 1813.5L677.5 1856.7M508.6 1813.5L335.7 2033.4M508.6 1813.5L490.5 1878.7M508.6 1813.5L449.8 1916.5M508.6 1813.5L441.2 1864.1M508.6 1813.5L671.4 1878M508.6 1813.5L580.5 1942.5M508.6 1813.5L619.2 1979.2M508.6 1813.5L698.4 1896.8M508.6 1813.5L507.6 1971.2M508.6 1813.5L458.8 1777M508.6 1813.5L438.4 1886M526.2 1931.7L598.3 1854.4M526.2 1931.7L464.9 1877.6M526.2 1931.7L659.4 1930M526.2 1931.7L608.6 1943.9M526.2 1931.7L354.3 1950M526.2 1931.7L490.5 1878.7M526.2 1931.7L449.8 1916.5M526.2 1931.7L471.7 2013.2M526.2 1931.7L586.3 1968.1M526.2 1931.7L448.6 1844.5M526.2 1931.7L580.5 1942.5M526.2 1931.7L619.2 1979.2M526.2 1931.7L470 1829.7M526.2 1931.7L698.4 1896.8M526.2 1931.7L507.6 1971.2M526.2 1931.7L438.4 1886M681.1 1779.9L677.5 1824.1M476.6 2107.6L410 2151.6M476.6 2107.6L544.6 2046.2M476.6 2107.6L341.1 2054M476.6 2107.6L335.7 2033.4M476.6 2107.6L314.5 2032.2M476.6 2107.6L448.6 1844.5M476.6 2107.6L698.4 1896.8M476.6 2107.6L507.8 2054M410 2151.6L390.8 2047.1M410 2151.6L341.1 2054M410 2151.6L345.8 2136.3M410 2151.6L580.5 1942.5M761.2 2288.2L761.5 2329.8M162.6 2311.8L123.3 2335.8M598.3 1854.4L390.8 2047.1M598.3 1854.4L464.9 1877.6M598.3 1854.4L677.5 1856.7M598.3 1854.4L449.8 1916.5"/>
<path d="M598.3 1854.4L580.5 1942.5M598.3 1854.4L619.2 1979.2M598.3 1854.4L698.4 1896.8M598.3 1854.4L507.8 2054M598.3 1854.4L507.6 1971.2M598.3 1854.4L438.4 1886M507.4 1994L341.1 2054M507.4 1994L490.5 1878.7M507.4 1994L671.4 1878M390.8 2047.1L274 2067M390.8 2047.1L348 1982.7M390.8 2047.1L441 1943.4M390.8 2047.1L230.6 1888.7M544.6 2046.2L464.9 1877.6M544.6 2046.2L571.5 2119.3M544.6 2046.2L448.6 1844.5M544.6 2046.2L580.5 1942.5M544.6 2046.2L698.4 1896.8M544.6 2046.2L438.4 1886M464.9 1877.6L659.4 1930M464.9 1877.6L608.6 1943.9M464.9 1877.6L490.5 1878.7M464.9 1877.6L449.8 1916.5M464.9 1877.6L419.6 1859.3M464.9 1877.6L441.2 1864.1M464.9 1877.6L671.4 1878M464.9 1877.6L478 1810M464.9 1877.6L448.6 1844.5M464.9 1877.6L580.5 1942.5M464.9 1877.6L619.2 1979.2M464.9 1877.6L698.4 1896.8M464.9 1877.6L507.6 1971.2M464.9 1877.6L438.4 1886M659.4 1930L677.5 1856.7M659.4 1930L490.5 1878.7M659.4 1930L765 1880.1M659.4 1930L507.6 1971.2M659.4 1930L438.4 1886M835.4 1883.8L812.3 1922M341.1 2054L274 2067M341.1 2054L354.3 1950M341.1 2054L335.7 2033.4M341.1 2054L314.5 2032.2M341.1 2054L399.9 2122.7M274 2067L345.8 2136.3M274 2067L295.8 2085.1M274 2067L314.5 2032.2M345.8 2136.3L354.3 1950M345.8 2136.3L335.7 2033.4M345.8 2136.3L295.8 2085.1M345.8 2136.3L314.5 2032.2M345.8 2136.3L352.4 2115.9M345.8 2136.3L395.5 2008.8M345.8 2136.3L399.2 1870.9M608.6 1943.9L490.5 1878.7M608.6 1943.9L419.6 1859.3M608.6 1943.9L671.4 1878M608.6 1943.9L478 1810M608.6 1943.9L586.3 1968.1M608.6 1943.9L580.5 1942.5"/>
<path d="M608.6 1943.9L619.2 1979.2M608.6 1943.9L698.4 1896.8M348 1982.7L354.3 1950M677.5 1856.7L449.8 1916.5M677.5 1856.7L671.4 1878M677.5 1856.7L632.2 1956.4M677.5 1856.7L580.5 1942.5M677.5 1856.7L698.4 1896.8M354.3 1950L303.9 1955.2M354.3 1950L335.7 2033.4M354.3 1950L580.5 1942.5M354.3 1950L283.4 1909.8M441 1943.4L303.9 1955.2M303.9 1955.2L283.4 1909.8M335.7 2033.4L507.8 2054M295.8 2085.1L471.7 2013.2M295.8 2085.1L586.3 1968.1M295.8 2085.1L399.9 2122.7M314.5 2032.2L399.9 2122.7M314.5 2032.2L580.5 1942.5M314.5 2032.2L395.5 2008.8M314.5 2032.2L698.4 1896.8M595.7 2288.2L615.4 2331.7M490.5 1878.7L580.5 1942.5M490.5 1878.7L619.2 1979.2M490.5 1878.7L507.6 1971.2M490.5 1878.7L438.4 1886M449.8 1916.5L478 1810M449.8 1916.5L586.3 1968.1M449.8 1916.5L619.2 1979.2M449.8 1916.5L507.6 1971.2M419.6 1859.3L671.4 1878M419.6 1859.3L698.4 1896.8M419.6 1859.3L438.4 1886M441.2 1864.1L586.3 1968.1M441.2 1864.1L438.4 1886M471.7 2013.2L580.5 1942.5M471.7 2013.2L619.2 1979.2M471.7 2013.2L698.4 1896.8M728.3 1933.3L580.5 1942.5M728.3 1933.3L698.4 1896.8M671.4 1878L586.3 1968.1M671.4 1878L580.5 1942.5M671.4 1878L619.2 1979.2M671.4 1878L677.5 1824.1M478 1810L507.6 1971.2M478 1810L379.8 1808.3M478 1810L458.8 1777M478 1810L438.4 1886M586.3 1968.1L399.9 2122.7M586.3 1968.1L580.5 1942.5M586.3 1968.1L507.6 1971.2M765 1880.1L698.4 1896.8M448.6 1844.5L580.5 1942.5M399.9 2122.7L580.5 1942.5M580.5 1942.5L619.2 1979.2M580.5 1942.5L698.4 1896.8M580.5 1942.5L507.6 1971.2M580.5 1942.5L438.4 1886M619.2 1979.2L698.4 1896.8"/>
<path d="M619.2 1979.2L507.8 2054M619.2 1979.2L507.6 1971.2M619.2 1979.2L438.4 1886M470 1829.7L458.8 1777M698.4 1896.8L507.6 1971.2M507.6 1971.2L438.4 1886M399.2 1870.9L379.8 1808.3M399.2 1870.9L438.4 1886M713 2288.4L712.7 2331.3"/>
</g>
<g font-family="'Liberation Sans', sans-serif" font-size="7.45" text-anchor="middle" stroke="#151515" stroke-width="0.12">
<circle cx="532.3" cy="1684.7" r="9" fill="#6aa6c9" stroke="none"/><text x="532.3" y="1687.3" fill="#151515">H2BC9</text>
<circle cx="522.2" cy="1704.7" r="9.2" fill="#70abc8" stroke="none"/><text x="522.2" y="1707.3" fill="#151515">CENPN</text>
<circle cx="591" cy="1698.8" r="9" fill="#6aa6c9" stroke="none"/><text x="591" y="1701.4" fill="#151515">CENPW</text>
<circle cx="390.4" cy="1734.5" r="9" fill="#6aa6c9" stroke="none"/><text x="390.4" y="1737.1" fill="#151515">CGAS</text>
<circle cx="443.5" cy="1728.6" r="9" fill="#6aa6c9" stroke="none"/><text x="443.5" y="1731.2" fill="#151515">H2BC17</text>
<circle cx="276.9" cy="1759.9" r="9" fill="#6aa6c9" stroke="none"/><text x="276.9" y="1762.5" fill="#151515">HELLS</text>
<circle cx="535.6" cy="1756.4" r="9.4" fill="#70abc8" stroke="none"/><text x="535.6" y="1759" fill="#151515">KNTC1</text>
<circle cx="515.2" cy="1763.4" r="9.4" fill="#70abc8" stroke="none"/><text x="515.2" y="1766" fill="#151515">CENPU</text>
<circle cx="601.6" cy="1762.7" r="9.4" fill="#80b6c6" stroke="none"/><text x="601.6" y="1765.3" fill="#151515">CENPH</text>
<circle cx="411.8" cy="1778.2" r="9" fill="#6aa6c9" stroke="none"/><text x="411.8" y="1780.8" fill="#151515">H2BC11</text>
<circle cx="458.8" cy="1777" r="9.2" fill="#70abc8" stroke="none"/><text x="458.8" y="1779.6" fill="#151515">ZWILCH</text>
<circle cx="516.8" cy="1783.4" r="10.5" fill="#8fc0c3" stroke="none"/><text x="516.8" y="1786" fill="#151515">KNL1</text>
<circle cx="613.4" cy="1785.3" r="9.2" fill="#70abc8" stroke="none"/><text x="613.4" y="1787.9" fill="#151515">CDCA2</text>
<circle cx="681.1" cy="1779.9" r="9" fill="#6aa6c9" stroke="none"/><text x="681.1" y="1782.5" fill="#151515">OIP5</text>
<circle cx="811.8" cy="1755.5" r="9" fill="#6aa6c9" stroke="none"/><text x="811.8" y="1758.1" fill="#151515">HOXC6</text>
<circle cx="799.9" cy="1796.6" r="9" fill="#6aa6c9" stroke="none"/><text x="799.9" y="1799.2" fill="#151515">HOXC9</text>
<circle cx="788.2" cy="1837.5" r="9" fill="#6aa6c9" stroke="none"/><text x="788.2" y="1840.1" fill="#151515">HOXC10</text>
<circle cx="309.3" cy="1799.2" r="9.4" fill="#80b6c6" stroke="none"/><text x="309.3" y="1801.8" fill="#151515">DNMT3B</text>
<circle cx="379.8" cy="1808.3" r="9.2" fill="#70abc8" stroke="none"/><text x="379.8" y="1810.9" fill="#151515">UBE2T</text>
<circle cx="557" cy="1800.6" r="12.2" fill="#f6e2a4" stroke="none"/><text x="557" y="1803.2" fill="#151515">CENPA</text>
<circle cx="585.2" cy="1799.4" r="13.8" fill="#dc7e60" stroke="none"/><text x="585.2" y="1802" fill="#151515">KIF11</text>
<circle cx="478" cy="1810" r="9.6" fill="#80b6c6" stroke="none"/><text x="478" y="1812.6" fill="#151515">SPC24</text>
<circle cx="508.6" cy="1813.5" r="12.4" fill="#f1c592" stroke="none"/><text x="508.6" y="1816.1" fill="#151515">NUF2</text>
<circle cx="533.5" cy="1821.7" r="10" fill="#80b6c6" stroke="none"/><text x="533.5" y="1824.3" fill="#151515">DSN1</text>
<circle cx="584.5" cy="1826.4" r="12.2" fill="#f6e2a4" stroke="none"/><text x="584.5" y="1829" fill="#151515">BIRC5</text>
<circle cx="449.4" cy="1825.7" r="9" fill="#63a0ca" stroke="none"/><text x="449.4" y="1828.3" fill="#151515">GTSE1</text>
<circle cx="470" cy="1829.7" r="9.2" fill="#70abc8" stroke="none"/><text x="470" y="1832.3" fill="#151515">TRIP13</text>
<circle cx="632.2" cy="1828.1" r="13.4" fill="#e8a278" stroke="none"/><text x="632.2" y="1830.7" fill="#151515">KIF20A</text>
<circle cx="656.9" cy="1824.1" r="9.6" fill="#80b6c6" stroke="none"/><text x="656.9" y="1826.7" fill="#151515">KIFC1</text>
<circle cx="677.5" cy="1824.1" r="9" fill="#63a0ca" stroke="none"/><text x="677.5" y="1826.7" fill="#151515">WDR62</text>
<circle cx="729.2" cy="1824" r="9" fill="#6aa6c9" stroke="none"/><text x="729.2" y="1826.6" fill="#151515">KIF20B</text>
<circle cx="236.4" cy="1837" r="9" fill="#6aa6c9" stroke="none"/><text x="236.4" y="1839.6" fill="#151515">RMI2</text>
<circle cx="508.1" cy="1839.3" r="12.2" fill="#f6e2a4" stroke="none"/><text x="508.1" y="1841.9" fill="#151515">CEP55</text>
<circle cx="561.5" cy="1837.9" r="9.4" fill="#63a0ca" stroke="none"/><text x="561.5" y="1840.5" fill="#151515">CCT2</text>
<circle cx="448.6" cy="1844.5" r="9" fill="#63a0ca" stroke="none"/><text x="448.6" y="1847.1" fill="#151515">TACC3</text>
<circle cx="711.6" cy="1843" r="9" fill="#63a0ca" stroke="none"/><text x="711.6" y="1845.6" fill="#151515">KNSTRN</text>
<circle cx="324.6" cy="1849.7" r="9.6" fill="#80b6c6" stroke="none"/><text x="324.6" y="1852.3" fill="#151515">FANCI</text>
<circle cx="282.3" cy="1858.1" r="9.6" fill="#80b6c6" stroke="none"/><text x="282.3" y="1860.7" fill="#151515">FANCA</text>
<circle cx="419.6" cy="1859.3" r="9.6" fill="#80b6c6" stroke="none"/><text x="419.6" y="1861.9" fill="#151515">SKA1</text>
<circle cx="441.2" cy="1864.1" r="9.6" fill="#78b0c7" stroke="none"/><text x="441.2" y="1866.7" fill="#151515">SKA3</text>
<circle cx="539.8" cy="1857.4" r="11" fill="#c8e0bf" stroke="none"/><text x="539.8" y="1860" fill="#151515">MKI67</text>
<circle cx="515.2" cy="1864.4" r="12" fill="#f4f1b3" stroke="none"/><text x="515.2" y="1867" fill="#151515">NDC80</text>
<circle cx="571.7" cy="1862" r="14.2" fill="#dc7e60" stroke="none"/><text x="571.7" y="1864.6" fill="#151515">BUB1</text>
<circle cx="598.3" cy="1854.4" r="11.2" fill="#dde9ba" stroke="none"/><text x="598.3" y="1857" fill="#151515">PBK</text>
<circle cx="621.8" cy="1855.1" r="10.6" fill="#a2ccc3" stroke="none"/><text x="621.8" y="1857.7" fill="#151515">HMMR</text>
<circle cx="646.7" cy="1857.7" r="12.7" fill="#f4d29a" stroke="none"/><text x="646.7" y="1860.3" fill="#151515">ASPM</text>
<circle cx="677.5" cy="1856.7" r="10.4" fill="#a2ccc3" stroke="none"/><text x="677.5" y="1859.3" fill="#151515">RACGAP1</text>
<circle cx="731.2" cy="1861.9" r="9" fill="#6aa6c9" stroke="none"/><text x="731.2" y="1864.5" fill="#151515">DEPDC1</text>
<circle cx="705.2" cy="1870" r="10" fill="#88bbc4" stroke="none"/><text x="705.2" y="1872.6" fill="#151515">ANLN</text>
<circle cx="315.4" cy="1871.4" r="9" fill="#67a3c9" stroke="none"/><text x="315.4" y="1874" fill="#151515">EPOP</text>
<circle cx="399.2" cy="1870.9" r="9.2" fill="#70abc8" stroke="none"/><text x="399.2" y="1873.5" fill="#151515">UBE2S</text>
<circle cx="378.7" cy="1873" r="9" fill="#63a0ca" stroke="none"/><text x="378.7" y="1875.6" fill="#151515">MZT1</text>
<circle cx="359.6" cy="1879.3" r="9.4" fill="#78b0c7" stroke="none"/><text x="359.6" y="1881.9" fill="#151515">CBX2</text>
<circle cx="464.9" cy="1877.6" r="13.2" fill="#eeb888" stroke="none"/><text x="464.9" y="1880.2" fill="#151515">PLK1</text>
<circle cx="490.5" cy="1878.7" r="10.8" fill="#bedbc0" stroke="none"/><text x="490.5" y="1881.3" fill="#151515">RRM2</text>
<circle cx="607.7" cy="1878" r="10" fill="#88bbc4" stroke="none"/><text x="607.7" y="1880.6" fill="#151515">ECT2</text>
<circle cx="634.7" cy="1883" r="12" fill="#f6e2a4" stroke="none"/><text x="634.7" y="1885.6" fill="#151515">MELK</text>
<circle cx="671.4" cy="1878" r="10.8" fill="#a2ccc3" stroke="none"/><text x="671.4" y="1880.6" fill="#151515">SPAG5</text>
<circle cx="765" cy="1880.1" r="9" fill="#6aa6c9" stroke="none"/><text x="765" y="1882.7" fill="#151515">STIL</text>
<circle cx="835.4" cy="1883.8" r="9" fill="#6aa6c9" stroke="none"/><text x="835.4" y="1886.4" fill="#151515">PLXNA1</text>
<circle cx="438.4" cy="1886" r="11" fill="#dde9ba" stroke="none"/><text x="438.4" y="1888.6" fill="#151515">ZWINT</text>
<circle cx="399" cy="1892.9" r="9" fill="#67a3c9" stroke="none"/><text x="399" y="1895.5" fill="#151515">ERCC6L</text>
<circle cx="523.4" cy="1894.5" r="11" fill="#c8e0bf" stroke="none"/><text x="523.4" y="1897.1" fill="#151515">NEK2</text>
<circle cx="550.4" cy="1892.2" r="14.3" fill="#d76c52" stroke="none"/><text x="550.4" y="1894.8" fill="#151515">CDC20</text>
<circle cx="579.5" cy="1890.6" r="14.2" fill="#d76c52" stroke="none"/><text x="579.5" y="1893.2" fill="#151515">CCNB1</text>
<circle cx="608.2" cy="1901.1" r="12.2" fill="#f5e8aa" stroke="none"/><text x="608.2" y="1903.7" fill="#151515">CENPE</text>
<circle cx="698.4" cy="1896.8" r="12" fill="#f4f1b3" stroke="none"/><text x="698.4" y="1899.4" fill="#151515">TTK</text>
<circle cx="767.3" cy="1898.5" r="9" fill="#6aa6c9" stroke="none"/><text x="767.3" y="1901.1" fill="#151515">CKAP2L</text>
<circle cx="230.6" cy="1888.7" r="9" fill="#6aa6c9" stroke="none"/><text x="230.6" y="1891.3" fill="#151515">UHRF1</text>
<circle cx="357.8" cy="1901.7" r="9.6" fill="#80b6c6" stroke="none"/><text x="357.8" y="1904.3" fill="#151515">EZH2</text>
<circle cx="283.4" cy="1909.8" r="9" fill="#67a3c9" stroke="none"/><text x="283.4" y="1912.4" fill="#151515">XRCC2</text>
<circle cx="334.4" cy="1914.5" r="9.6" fill="#80b6c6" stroke="none"/><text x="334.4" y="1917.1" fill="#151515">FANCD2</text>
<circle cx="405.6" cy="1916.5" r="11" fill="#c8e0bf" stroke="none"/><text x="405.6" y="1919.1" fill="#151515">BRCA1</text>
<circle cx="428.4" cy="1919" r="9.8" fill="#80b6c6" stroke="none"/><text x="428.4" y="1921.6" fill="#151515">CDC25C</text>
<circle cx="449.8" cy="1916.5" r="9.8" fill="#80b6c6" stroke="none"/><text x="449.8" y="1919.1" fill="#151515">SGO1</text>
<circle cx="498.2" cy="1920.4" r="14.3" fill="#dc7e60" stroke="none"/><text x="498.2" y="1923" fill="#151515">BUB1B</text>
<circle cx="565.2" cy="1917.6" r="10.6" fill="#a2ccc3" stroke="none"/><text x="565.2" y="1920.2" fill="#151515">KIF18A</text>
<circle cx="634" cy="1908.9" r="12" fill="#f4f1b3" stroke="none"/><text x="634" y="1911.5" fill="#151515">KIF4A</text>
<circle cx="660.4" cy="1908.2" r="11.3" fill="#dde9ba" stroke="none"/><text x="660.4" y="1910.8" fill="#151515">HJURP</text>
<circle cx="683.9" cy="1922.3" r="10.8" fill="#c8e0bf" stroke="none"/><text x="683.9" y="1924.9" fill="#151515">KIF15</text>
<circle cx="812.3" cy="1922" r="9" fill="#6aa6c9" stroke="none"/><text x="812.3" y="1924.6" fill="#151515">RAC3</text>
<circle cx="302.9" cy="1936.4" r="9" fill="#63a0ca" stroke="none"/><text x="302.9" y="1939" fill="#151515">MND1</text>
<circle cx="303.9" cy="1955.2" r="9" fill="#67a3c9" stroke="none"/><text x="303.9" y="1957.8" fill="#151515">RAD54L</text>
<circle cx="323.9" cy="1946.5" r="9.6" fill="#80b6c6" stroke="none"/><text x="323.9" y="1949.1" fill="#151515">DNMT1</text>
<circle cx="354.3" cy="1950" r="10.6" fill="#b4d6c2" stroke="none"/><text x="354.3" y="1952.6" fill="#151515">RAD51</text>
<circle cx="471.6" cy="1932.4" r="10.6" fill="#b4d6c2" stroke="none"/><text x="471.6" y="1935" fill="#151515">FOXM1</text>
<circle cx="526.2" cy="1931.7" r="12" fill="#f6e2a4" stroke="none"/><text x="526.2" y="1934.3" fill="#151515">NUSAP1</text>
<circle cx="497.5" cy="1947" r="12" fill="#ebeeb6" stroke="none"/><text x="497.5" y="1949.6" fill="#151515">AURKA</text>
<circle cx="553.4" cy="1941.6" r="12.5" fill="#f5da9f" stroke="none"/><text x="553.4" y="1944.2" fill="#151515">AURKB</text>
<circle cx="580.5" cy="1942.5" r="13.4" fill="#e8a278" stroke="none"/><text x="580.5" y="1945.1" fill="#151515">TOP2A</text>
<circle cx="608.6" cy="1943.9" r="11" fill="#c8e0bf" stroke="none"/><text x="608.6" y="1946.5" fill="#151515">PRC1</text>
<circle cx="632.9" cy="1934.7" r="12.2" fill="#f6e2a4" stroke="none"/><text x="632.9" y="1937.3" fill="#151515">NCAPG</text>
<circle cx="659.4" cy="1930" r="9.6" fill="#80b6c6" stroke="none"/><text x="659.4" y="1932.6" fill="#151515">PLK4</text>
<circle cx="706.9" cy="1938.7" r="10.6" fill="#abd1c2" stroke="none"/><text x="706.9" y="1941.3" fill="#151515">KIF14</text>
<circle cx="728.3" cy="1933.3" r="9.6" fill="#70abc8" stroke="none"/><text x="728.3" y="1935.9" fill="#151515">SMC2</text>
<circle cx="441" cy="1943.4" r="9.2" fill="#63a0ca" stroke="none"/><text x="441" y="1946" fill="#151515">RAD51AP1</text>
<circle cx="398.7" cy="1959.3" r="9.5" fill="#63a0ca" stroke="none"/><text x="398.7" y="1961.9" fill="#151515">CCNF</text>
<circle cx="420" cy="1961.7" r="10" fill="#8fc0c3" stroke="none"/><text x="420" y="1964.3" fill="#151515">CDC25A</text>
<circle cx="441.7" cy="1962.8" r="9.7" fill="#80b6c6" stroke="none"/><text x="441.7" y="1965.4" fill="#151515">CDC25B</text>
<circle cx="533.9" cy="1964.1" r="10.4" fill="#8fc0c3" stroke="none"/><text x="533.9" y="1966.7" fill="#151515">CDCA5</text>
<circle cx="507.6" cy="1971.2" r="12.5" fill="#f6e2a4" stroke="none"/><text x="507.6" y="1973.8" fill="#151515">UBE2C</text>
<circle cx="562" cy="1977.5" r="13.4" fill="#eeb888" stroke="none"/><text x="562" y="1980.1" fill="#151515">CENPF</text>
<circle cx="586.3" cy="1968.1" r="10" fill="#8fc0c3" stroke="none"/><text x="586.3" y="1970.7" fill="#151515">SPC25</text>
<circle cx="632.2" cy="1956.4" r="9" fill="#63a0ca" stroke="none"/><text x="632.2" y="1959" fill="#151515">TOP1MT</text>
<circle cx="663.4" cy="1953.5" r="13.4" fill="#e8a278" stroke="none"/><text x="663.4" y="1956.1" fill="#151515">DLGAP5</text>
<circle cx="788.4" cy="1959.6" r="9" fill="#6aa6c9" stroke="none"/><text x="788.4" y="1962.2" fill="#151515">IQGAP3</text>
<circle cx="308.8" cy="1975.2" r="9.6" fill="#8fc0c3" stroke="none"/><text x="308.8" y="1977.8" fill="#151515">MSH2</text>
<circle cx="348" cy="1982.7" r="9.2" fill="#67a3c9" stroke="none"/><text x="348" y="1985.3" fill="#151515">PRKDC</text>
<circle cx="282.3" cy="1990" r="9.4" fill="#70abc8" stroke="none"/><text x="282.3" y="1992.6" fill="#151515">LIG1</text>
<circle cx="348.1" cy="2002.9" r="10.4" fill="#a2ccc3" stroke="none"/><text x="348.1" y="2005.5" fill="#151515">FEN1</text>
<circle cx="395.5" cy="2008.8" r="9.6" fill="#70abc8" stroke="none"/><text x="395.5" y="2011.4" fill="#151515">TOPBP1</text>
<circle cx="373.9" cy="2008.8" r="9.8" fill="#80b6c6" stroke="none"/><text x="373.9" y="2011.4" fill="#151515">CLSPN</text>
<circle cx="417.1" cy="2005" r="10.6" fill="#b4d6c2" stroke="none"/><text x="417.1" y="2007.6" fill="#151515">EXO1</text>
<circle cx="449.8" cy="1985.3" r="12" fill="#f4f1b3" stroke="none"/><text x="449.8" y="1987.9" fill="#151515">MAD2L1</text>
<circle cx="478.5" cy="1984.7" r="15.3" fill="#c93a30" stroke="none"/><text x="478.5" y="1987.3" fill="#151515">CDK1</text>
<circle cx="533.9" cy="1988.1" r="13" fill="#f0c18f" stroke="none"/><text x="533.9" y="1990.7" fill="#151515">CDCA8</text>
<circle cx="507.4" cy="1994" r="9.6" fill="#78b0c7" stroke="none"/><text x="507.4" y="1996.6" fill="#151515">PCLAF</text>
<circle cx="619.2" cy="1979.2" r="12.5" fill="#f4d29a" stroke="none"/><text x="619.2" y="1981.8" fill="#151515">TPX2</text>
<circle cx="645.8" cy="1986.4" r="12" fill="#f4f1b3" stroke="none"/><text x="645.8" y="1989" fill="#151515">KIF23</text>
<circle cx="735.3" cy="1978.3" r="9" fill="#6aa6c9" stroke="none"/><text x="735.3" y="1980.9" fill="#151515">KIF18B</text>
<circle cx="267" cy="2009.3" r="9.2" fill="#6aa6c9" stroke="none"/><text x="267" y="2011.9" fill="#151515">DNA2</text>
<circle cx="314.5" cy="2032.2" r="10.4" fill="#98c6c3" stroke="none"/><text x="314.5" y="2034.8" fill="#151515">RFC4</text>
<circle cx="335.7" cy="2033.4" r="9.8" fill="#80b6c6" stroke="none"/><text x="335.7" y="2036" fill="#151515">RECQL4</text>
<circle cx="341.1" cy="2054" r="10.2" fill="#98c6c3" stroke="none"/><text x="341.1" y="2056.6" fill="#151515">POLD1</text>
<circle cx="390.8" cy="2047.1" r="11" fill="#c8e0bf" stroke="none"/><text x="390.8" y="2049.7" fill="#151515">PCNA</text>
<circle cx="447" cy="2015.1" r="11" fill="#d2e4bc" stroke="none"/><text x="447" y="2017.7" fill="#151515">CHEK1</text>
<circle cx="471.7" cy="2013.2" r="9.6" fill="#80b6c6" stroke="none"/><text x="471.7" y="2015.8" fill="#151515">SKP2</text>
<circle cx="498.7" cy="2021.7" r="9.4" fill="#63a0ca" stroke="none"/><text x="498.7" y="2024.3" fill="#151515">MYBL2</text>
<circle cx="526.2" cy="2019.8" r="14.8" fill="#d04c38" stroke="none"/><text x="526.2" y="2022.4" fill="#151515">CCNA2</text>
<circle cx="563" cy="2016.9" r="12.5" fill="#f4d29a" stroke="none"/><text x="563" y="2019.5" fill="#151515">CCNB2</text>
<circle cx="589.4" cy="2004.1" r="10" fill="#8fc0c3" stroke="none"/><text x="589.4" y="2006.7" fill="#151515">NCAPH</text>
<circle cx="614.5" cy="2006.2" r="13" fill="#efbd8c" stroke="none"/><text x="614.5" y="2008.8" fill="#151515">KIF2C</text>
<circle cx="643" cy="2009.2" r="9" fill="#63a0ca" stroke="none"/><text x="643" y="2011.8" fill="#151515">HASPIN</text>
<circle cx="670" cy="1995.1" r="9.4" fill="#70abc8" stroke="none"/><text x="670" y="1997.7" fill="#151515">NCAPG2</text>
<circle cx="725.7" cy="1998.1" r="9.4" fill="#70abc8" stroke="none"/><text x="725.7" y="2000.7" fill="#151515">NCAPD3</text>
<circle cx="818.8" cy="2006.4" r="9" fill="#6aa6c9" stroke="none"/><text x="818.8" y="2009" fill="#151515">CXCL3</text>
<circle cx="475.8" cy="2035.2" r="12.5" fill="#f5e6a8" stroke="none"/><text x="475.8" y="2037.8" fill="#151515">CDC45</text>
<circle cx="447.2" cy="2050.7" r="10.6" fill="#b4d6c2" stroke="none"/><text x="447.2" y="2053.3" fill="#151515">CDT1</text>
<circle cx="425" cy="2055.5" r="10" fill="#8fc0c3" stroke="none"/><text x="425" y="2058.1" fill="#151515">E2F1</text>
<circle cx="477.4" cy="2059.2" r="11.3" fill="#dde9ba" stroke="none"/><text x="477.4" y="2061.8" fill="#151515">CDC6</text>
<circle cx="507.8" cy="2054" r="9.4" fill="#70abc8" stroke="none"/><text x="507.8" y="2056.6" fill="#151515">TYMS</text>
<circle cx="544.6" cy="2046.2" r="9.4" fill="#78b0c7" stroke="none"/><text x="544.6" y="2048.8" fill="#151515">PKMYT1</text>
<circle cx="586.4" cy="2055.7" r="9.4" fill="#78b0c7" stroke="none"/><text x="586.4" y="2058.3" fill="#151515">CDKN3</text>
<circle cx="566.2" cy="2054" r="9.4" fill="#70abc8" stroke="none"/><text x="566.2" y="2056.6" fill="#151515">CKS2</text>
<circle cx="605.8" cy="2028.5" r="9" fill="#63a0ca" stroke="none"/><text x="605.8" y="2031.1" fill="#151515">CKAP2</text>
<circle cx="694.3" cy="2050.5" r="9.4" fill="#70abc8" stroke="none"/><text x="694.3" y="2053.1" fill="#151515">NCAPD2</text>
<circle cx="749.8" cy="2051.8" r="9" fill="#6aa6c9" stroke="none"/><text x="749.8" y="2054.4" fill="#151515">TROAP</text>
<circle cx="788.3" cy="2038.8" r="9" fill="#6aa6c9" stroke="none"/><text x="788.3" y="2041.4" fill="#151515">CXCL1</text>
<circle cx="831.8" cy="2047.4" r="9" fill="#6aa6c9" stroke="none"/><text x="831.8" y="2050" fill="#151515">CCL20</text>
<circle cx="274" cy="2067" r="9.2" fill="#6aa6c9" stroke="none"/><text x="274" y="2069.6" fill="#151515">POLD3</text>
<circle cx="198.3" cy="2085.3" r="9" fill="#6aa6c9" stroke="none"/><text x="198.3" y="2087.9" fill="#151515">DSCC1</text>
<circle cx="295.8" cy="2085.1" r="10" fill="#8fc0c3" stroke="none"/><text x="295.8" y="2087.7" fill="#151515">RFC3</text>
<circle cx="355.9" cy="2078.8" r="11" fill="#cee3be" stroke="none"/><text x="355.9" y="2081.4" fill="#151515">MCM7</text>
<circle cx="386.3" cy="2070.1" r="11" fill="#c8e0bf" stroke="none"/><text x="386.3" y="2072.7" fill="#151515">MCM4</text>
<circle cx="430.9" cy="2085.3" r="11" fill="#cee3be" stroke="none"/><text x="430.9" y="2087.9" fill="#151515">MCM10</text>
<circle cx="517.5" cy="2074.7" r="9.6" fill="#80b6c6" stroke="none"/><text x="517.5" y="2077.3" fill="#151515">CDK6</text>
<circle cx="802.1" cy="2080" r="9" fill="#6aa6c9" stroke="none"/><text x="802.1" y="2082.6" fill="#151515">CXCL8</text>
<circle cx="521.2" cy="2094.6" r="9.6" fill="#80b6c6" stroke="none"/><text x="521.2" y="2097.2" fill="#151515">CCNE1</text>
<circle cx="398.2" cy="2100.6" r="11" fill="#d2e4bc" stroke="none"/><text x="398.2" y="2103.2" fill="#151515">MCM3</text>
<circle cx="420.3" cy="2107" r="9.6" fill="#6aa6c9" stroke="none"/><text x="420.3" y="2109.6" fill="#151515">MCM8</text>
<circle cx="455.1" cy="2109.3" r="9.6" fill="#80b6c6" stroke="none"/><text x="455.1" y="2111.9" fill="#151515">DBF4</text>
<circle cx="476.6" cy="2107.6" r="10" fill="#8fc0c3" stroke="none"/><text x="476.6" y="2110.2" fill="#151515">ORC1</text>
<circle cx="527.6" cy="2115.1" r="9.8" fill="#88bbc4" stroke="none"/><text x="527.6" y="2117.7" fill="#151515">DTL</text>
<circle cx="571.5" cy="2119.3" r="9.2" fill="#6aa6c9" stroke="none"/><text x="571.5" y="2121.9" fill="#151515">RBL1</text>
<circle cx="621.6" cy="2120" r="9.2" fill="#70abc8" stroke="none"/><text x="621.6" y="2122.6" fill="#151515">DCAF13</text>
<circle cx="726.7" cy="2105.3" r="9.4" fill="#80b6c6" stroke="none"/><text x="726.7" y="2107.9" fill="#151515">BYSL</text>
<circle cx="269.3" cy="2122.2" r="9.6" fill="#88bbc4" stroke="none"/><text x="269.3" y="2124.8" fill="#151515">CHTF18</text>
<circle cx="352.4" cy="2115.9" r="9.6" fill="#6aa6c9" stroke="none"/><text x="352.4" y="2118.5" fill="#151515">TICRR</text>
<circle cx="374.7" cy="2118.2" r="11" fill="#c8e0bf" stroke="none"/><text x="374.7" y="2120.8" fill="#151515">MCM2</text>
<circle cx="399.9" cy="2122.7" r="10" fill="#80b6c6" stroke="none"/><text x="399.9" y="2125.3" fill="#151515">TIMELESS</text>
<circle cx="345.8" cy="2136.3" r="10" fill="#98c6c3" stroke="none"/><text x="345.8" y="2138.9" fill="#151515">POLE2</text>
<circle cx="432.1" cy="2140.6" r="10" fill="#98c6c3" stroke="none"/><text x="432.1" y="2143.2" fill="#151515">CDC7</text>
<circle cx="410" cy="2151.6" r="10" fill="#80b6c6" stroke="none"/><text x="410" y="2154.2" fill="#151515">ORC6</text>
<circle cx="488.2" cy="2151" r="9" fill="#63a0ca" stroke="none"/><text x="488.2" y="2153.6" fill="#151515">CDKN2A</text>
<circle cx="448.5" cy="2165" r="10" fill="#84b9c5" stroke="none"/><text x="448.5" y="2167.6" fill="#151515">GINS2</text>
<circle cx="392.5" cy="2178.5" r="10" fill="#80b6c6" stroke="none"/><text x="392.5" y="2181.1" fill="#151515">GINS1</text>
<circle cx="506.9" cy="2171" r="9" fill="#63a0ca" stroke="none"/><text x="506.9" y="2173.6" fill="#151515">E2F7</text>
<circle cx="158.8" cy="2168" r="9" fill="#6aa6c9" stroke="none"/><text x="158.8" y="2170.6" fill="#151515">ESCO2</text>
<circle cx="315.9" cy="2170" r="9" fill="#63a0ca" stroke="none"/><text x="315.9" y="2172.6" fill="#151515">CHAF1B</text>
<circle cx="293.2" cy="2172.7" r="9.4" fill="#70abc8" stroke="none"/><text x="293.2" y="2175.3" fill="#151515">ASF1B</text>
<circle cx="724.3" cy="2150.7" r="9.4" fill="#80b6c6" stroke="none"/><text x="724.3" y="2153.3" fill="#151515">GTPBP4</text>
<circle cx="724.8" cy="2169.8" r="9.4" fill="#80b6c6" stroke="none"/><text x="724.8" y="2172.4" fill="#151515">BRIX1</text>
<circle cx="808.1" cy="2161.3" r="9.2" fill="#78b0c7" stroke="none"/><text x="808.1" y="2163.9" fill="#151515">NOP2</text>
<circle cx="560" cy="2187" r="9" fill="#6aa6c9" stroke="none"/><text x="560" y="2189.6" fill="#151515">MTHFD2</text>
<circle cx="664" cy="2195.3" r="9.2" fill="#78b0c7" stroke="none"/><text x="664" y="2197.9" fill="#151515">HEATR1</text>
<circle cx="556" cy="2210.3" r="9" fill="#6aa6c9" stroke="none"/><text x="556" y="2212.9" fill="#151515">RUNX1</text>
<circle cx="712.4" cy="2215.6" r="9.4" fill="#80b6c6" stroke="none"/><text x="712.4" y="2218.2" fill="#151515">NOP56</text>
<circle cx="771.9" cy="2217.6" r="9.4" fill="#80b6c6" stroke="none"/><text x="771.9" y="2220.2" fill="#151515">BOP1</text>
<circle cx="567.8" cy="2229.5" r="9" fill="#6aa6c9" stroke="none"/><text x="567.8" y="2232.1" fill="#151515">MTHFD1L</text>
<circle cx="556.4" cy="2252.8" r="9" fill="#6aa6c9" stroke="none"/><text x="556.4" y="2255.4" fill="#151515">MYB</text>
<circle cx="310.1" cy="2242.2" r="9" fill="#6aa6c9" stroke="none"/><text x="310.1" y="2244.8" fill="#151515">TONSL</text>
<circle cx="750.3" cy="2266.6" r="9" fill="#6aa6c9" stroke="none"/><text x="750.3" y="2269.2" fill="#151515">DKC1</text>
<circle cx="200.6" cy="2288.3" r="9" fill="#6aa6c9" stroke="none"/><text x="200.6" y="2290.9" fill="#151515">CHD7</text>
<circle cx="162.6" cy="2311.8" r="9" fill="#6aa6c9" stroke="none"/><text x="162.6" y="2314.4" fill="#151515">PAICS</text>
<circle cx="123.3" cy="2335.8" r="9" fill="#6aa6c9" stroke="none"/><text x="123.3" y="2338.4" fill="#151515">PPAT</text>
<circle cx="85.6" cy="2359.1" r="9" fill="#6aa6c9" stroke="none"/><text x="85.6" y="2361.7" fill="#151515">CAD</text>
<circle cx="248.7" cy="2288.3" r="9" fill="#6aa6c9" stroke="none"/><text x="248.7" y="2290.9" fill="#151515">CSE1L</text>
<circle cx="256.5" cy="2336.9" r="9" fill="#6aa6c9" stroke="none"/><text x="256.5" y="2339.5" fill="#151515">KPNA2</text>
<circle cx="379.4" cy="2288.1" r="9" fill="#6aa6c9" stroke="none"/><text x="379.4" y="2290.7" fill="#151515">IGF2BP2</text>
<circle cx="341.9" cy="2311.1" r="9" fill="#6aa6c9" stroke="none"/><text x="341.9" y="2313.7" fill="#151515">HMGA2</text>
<circle cx="304.1" cy="2334.3" r="9" fill="#6aa6c9" stroke="none"/><text x="304.1" y="2336.9" fill="#151515">IGF2BP3</text>
<circle cx="429.3" cy="2288.1" r="9" fill="#6aa6c9" stroke="none"/><text x="429.3" y="2290.7" fill="#151515">LGR5</text>
<circle cx="426.9" cy="2332.5" r="9" fill="#6aa6c9" stroke="none"/><text x="426.9" y="2335.1" fill="#151515">RNF43</text>
<circle cx="478.7" cy="2288.2" r="9" fill="#6aa6c9" stroke="none"/><text x="478.7" y="2290.8" fill="#151515">LMNB1</text>
<circle cx="477.4" cy="2332.3" r="9" fill="#6aa6c9" stroke="none"/><text x="477.4" y="2334.9" fill="#151515">LMNB2</text>
<circle cx="526.7" cy="2288.2" r="9" fill="#6aa6c9" stroke="none"/><text x="526.7" y="2290.8" fill="#151515">AMH</text>
<circle cx="547.9" cy="2331.7" r="9" fill="#6aa6c9" stroke="none"/><text x="547.9" y="2334.3" fill="#151515">SOX9</text>
<circle cx="595.7" cy="2288.2" r="9" fill="#6aa6c9" stroke="none"/><text x="595.7" y="2290.8" fill="#151515">RIBC2</text>
<circle cx="615.4" cy="2331.7" r="9" fill="#6aa6c9" stroke="none"/><text x="615.4" y="2334.3" fill="#151515">TRIB3</text>
<circle cx="663.5" cy="2288.3" r="9" fill="#6aa6c9" stroke="none"/><text x="663.5" y="2290.9" fill="#151515">MMP1</text>
<circle cx="664.9" cy="2331.5" r="9" fill="#6aa6c9" stroke="none"/><text x="664.9" y="2334.1" fill="#151515">MMP3</text>
<circle cx="713" cy="2288.4" r="9" fill="#6aa6c9" stroke="none"/><text x="713" y="2291" fill="#151515">ULBP2</text>
<circle cx="712.7" cy="2331.3" r="9" fill="#6aa6c9" stroke="none"/><text x="712.7" y="2333.9" fill="#151515">ULBP3</text>
<circle cx="761.2" cy="2288.2" r="9" fill="#6aa6c9" stroke="none"/><text x="761.2" y="2290.8" fill="#151515">P4HA1</text>
<circle cx="761.5" cy="2329.8" r="9" fill="#6aa6c9" stroke="none"/><text x="761.5" y="2332.4" fill="#151515">PYCR3</text>
</g>
</svg></body></html>
